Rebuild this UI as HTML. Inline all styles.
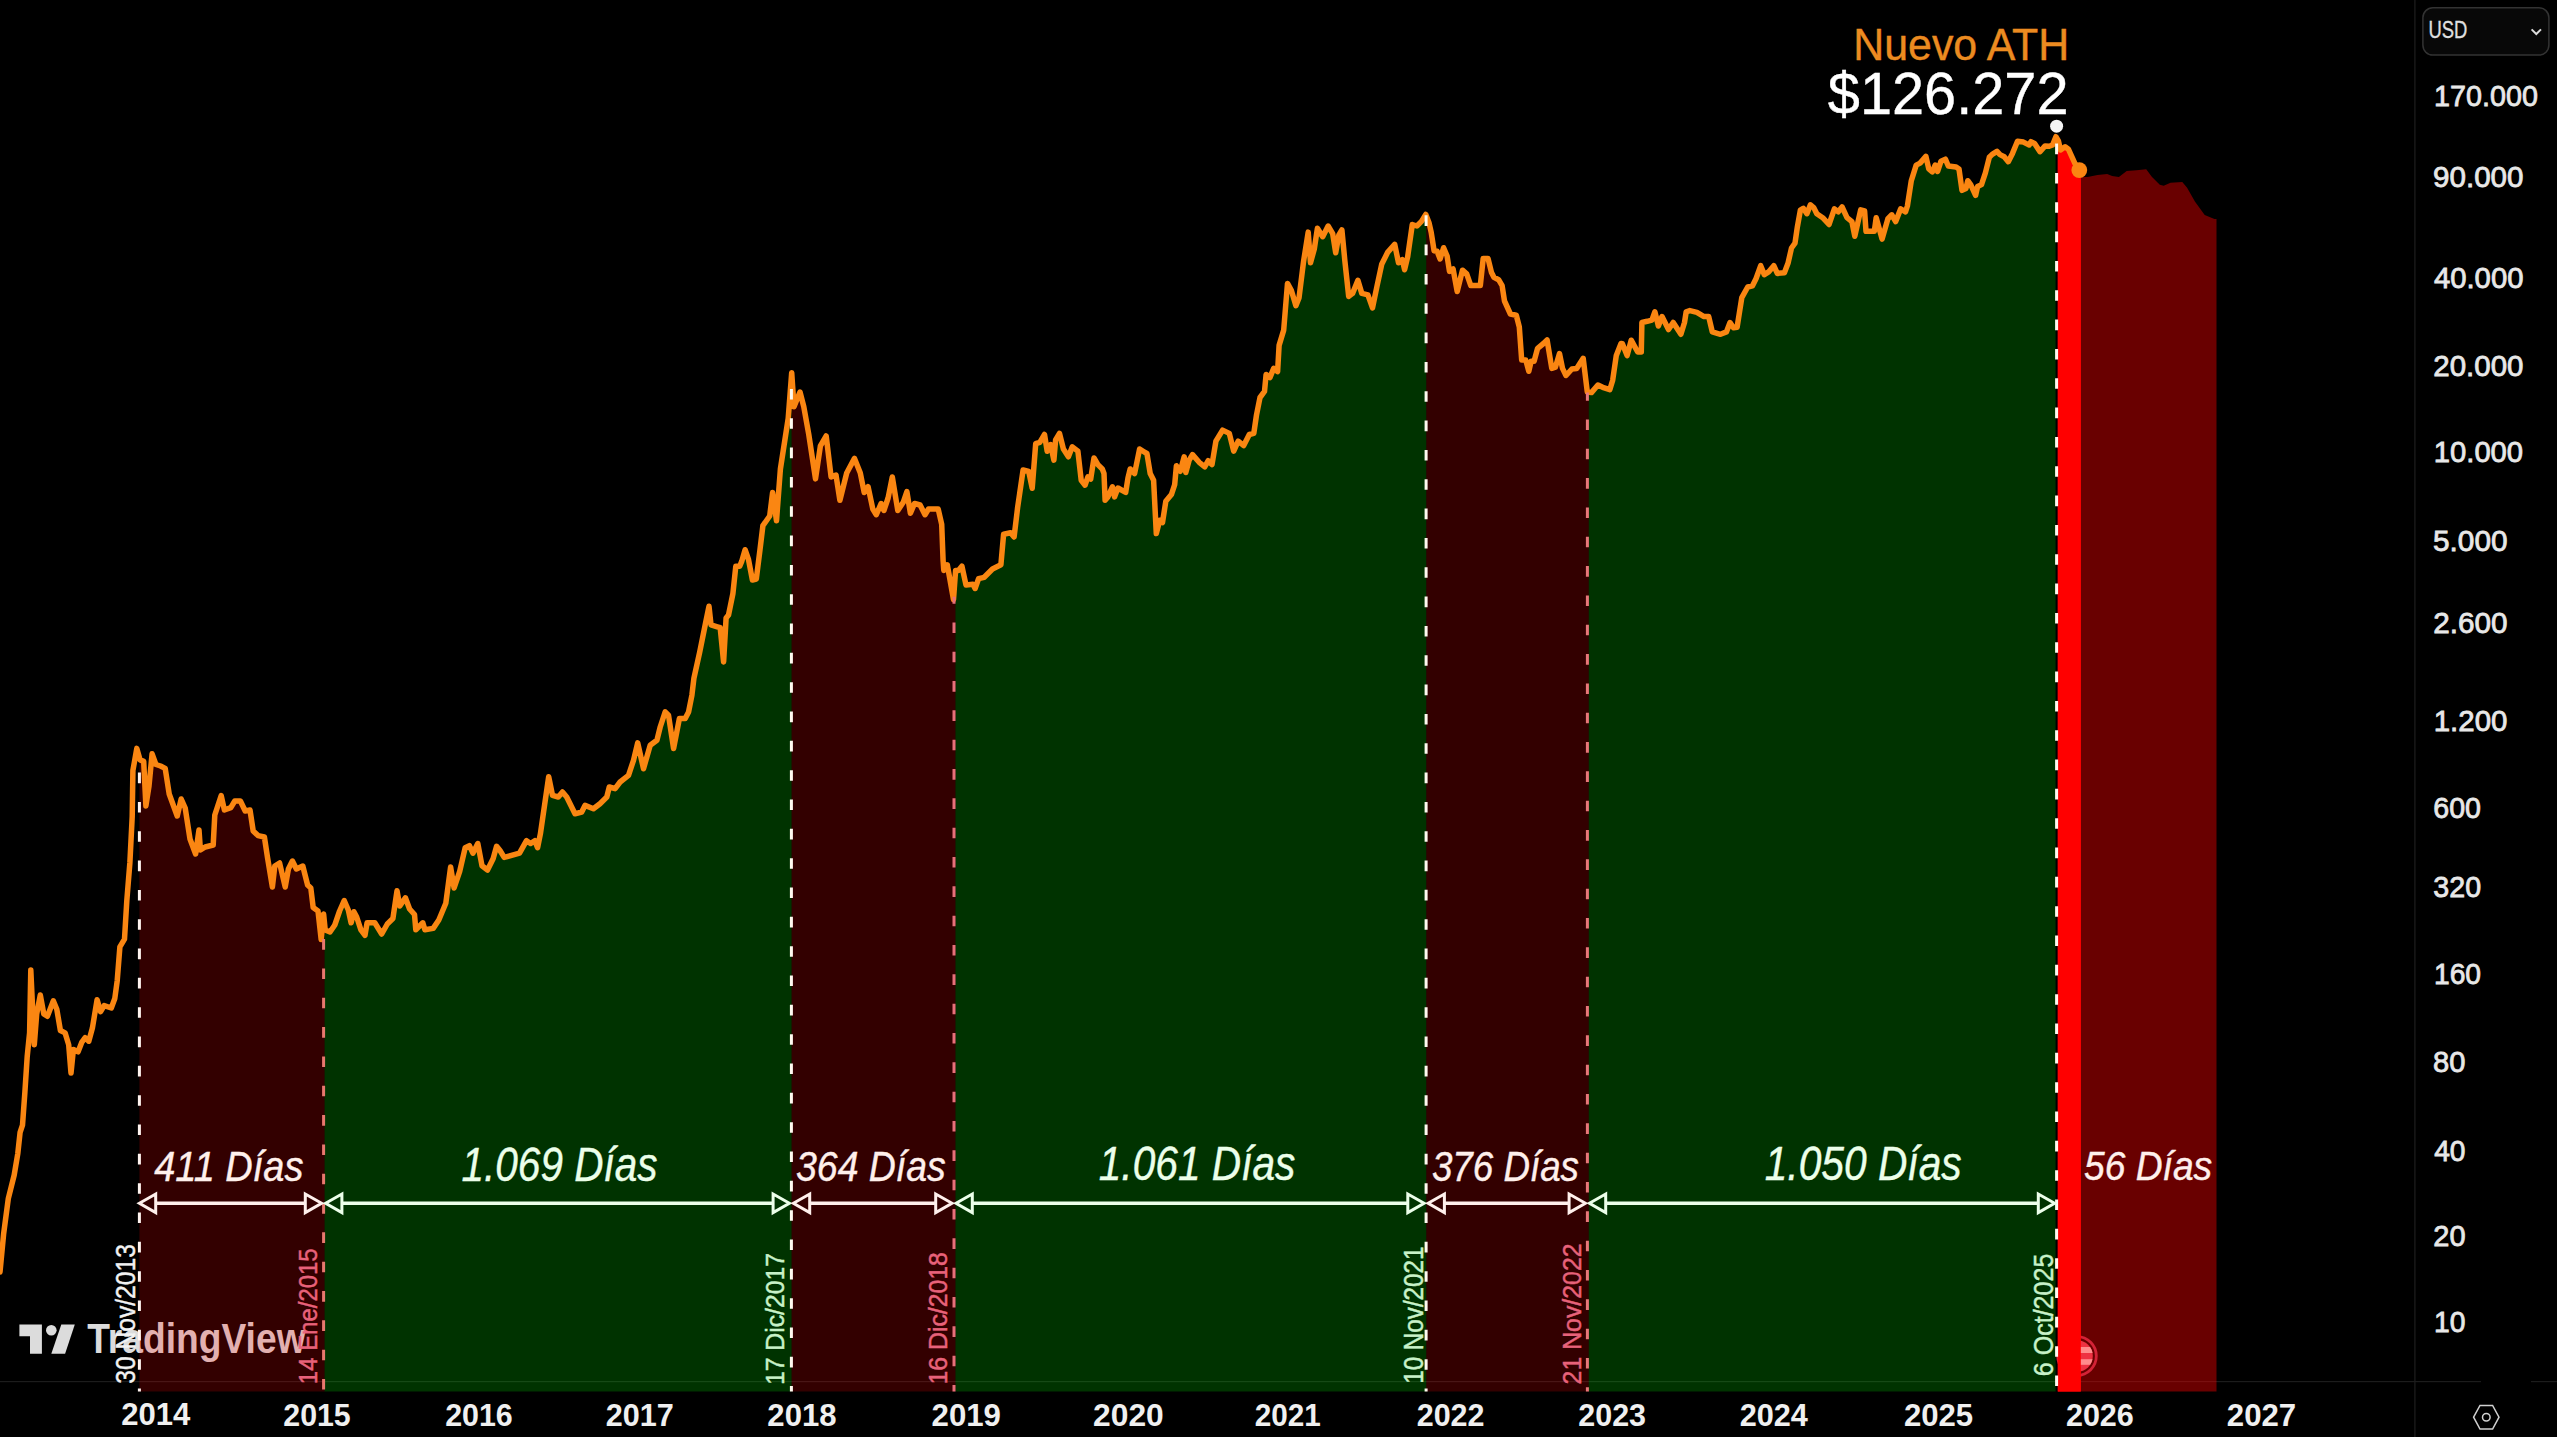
<!DOCTYPE html>
<html><head><meta charset="utf-8"><title>BTC ciclos</title>
<style>
html,body{margin:0;padding:0;background:#000;}
body{width:2557px;height:1437px;overflow:hidden;}
svg{display:block;}
text{font-family:"Liberation Sans",Arial,sans-serif;}
</style></head><body>
<svg width="2557" height="1437" viewBox="0 0 2557 1437">
<rect width="2557" height="1437" fill="#000"/>
<defs>
<clipPath id="c0"><rect x="139.4" y="0" width="185.2" height="1437"/></clipPath>
<clipPath id="c1"><rect x="324.6" y="0" width="467.0" height="1437"/></clipPath>
<clipPath id="c2"><rect x="791.6" y="0" width="163.9" height="1437"/></clipPath>
<clipPath id="c3"><rect x="955.5" y="0" width="470.8" height="1437"/></clipPath>
<clipPath id="c4"><rect x="1426.3" y="0" width="162.5" height="1437"/></clipPath>
<clipPath id="c5"><rect x="1588.8" y="0" width="466.8" height="1437"/></clipPath>
<clipPath id="c6"><rect x="2057.8" y="0" width="23.0" height="1437"/></clipPath>
</defs>
<rect x="0" y="1381" width="2414" height="1.2" fill="#1c1c1c"/>
<rect x="2414" y="1381" width="67" height="1.2" fill="#1c1c1c"/>
<rect x="2531" y="1381" width="26" height="1.2" fill="#1c1c1c"/>
<g fill="#dcdcdc"><path d="M19.4,1324.4 H41.9 V1353.8 H30 V1336.3 H19.4 Z"/><circle cx="51.3" cy="1330.2" r="5.3"/><path d="M61.3,1324.4 H74.8 L65.1,1353.8 H51.3 Z"/><text x="87.16" y="1353.40" font-size="43.28" font-weight="bold" textLength="218.41" lengthAdjust="spacingAndGlyphs">TradingView</text></g>
<path d="M0.0,1272.0 L3.6,1234.2 L8.3,1198.6 L14.2,1175.0 L17.8,1153.6 L20.1,1132.3 L22.5,1125.2 L24.9,1092.0 L27.2,1056.6 L29.6,1032.9 L30.8,970.1 L34.3,1044.7 L36.7,1013.9 L40.3,995.0 L43.8,1013.9 L47.4,1016.3 L53.3,1000.9 L56.8,1009.2 L60.4,1030.5 L65.1,1032.9 L68.7,1044.7 L71.0,1073.1 L73.4,1049.5 L78.1,1051.8 L81.7,1042.4 L85.2,1037.6 L88.8,1041.2 L92.4,1028.1 L97.1,999.7 L100.6,1011.6 L104.2,1005.6 L111.3,1008.0 L114.8,998.5 L117.2,980.8 L119.9,946.8 L124.5,939.1 L126.8,900.8 L129.9,862.5 L132.2,816.6 L132.9,770.6 L136.8,748.4 L140.1,759.9 L143.7,761.4 L145.9,805.9 L149.0,786.0 L152.1,753.8 L155.9,764.5 L160.5,766.0 L165.2,768.4 L169.2,794.0 L173.2,805.0 L177.2,816.0 L181.2,799.0 L185.2,808.0 L190.0,839.0 L195.6,854.0 L199.0,830.0 L200.4,850.0 L205.2,847.0 L213.2,845.0 L214.8,815.0 L221.2,795.6 L224.4,810.0 L230.8,807.6 L234.8,801.0 L240.4,801.0 L245.2,811.0 L250.0,810.0 L253.2,831.0 L258.0,835.6 L264.4,837.0 L267.6,858.0 L272.4,887.0 L274.8,866.0 L279.6,863.0 L285.2,887.0 L288.4,869.0 L292.4,861.0 L296.4,869.0 L302.8,866.0 L307.6,885.0 L310.8,888.0 L313.2,907.6 L318.0,911.0 L321.2,939.6 L323.6,914.0 L325.2,930.0 L330.0,932.0 L334.8,925.0 L339.6,911.0 L344.2,900.5 L348.3,910.0 L351.1,922.8 L353.9,911.7 L356.7,917.0 L360.9,929.8 L365.0,935.3 L367.1,922.8 L374.8,922.8 L381.7,934.0 L387.3,924.0 L392.9,918.6 L397.0,890.8 L399.8,906.0 L405.4,897.8 L409.6,909.0 L414.5,914.5 L415.8,929.8 L422.8,922.8 L424.9,929.8 L433.2,928.4 L438.8,920.0 L445.8,903.3 L450.6,867.0 L454.1,888.0 L459.7,871.3 L465.2,847.7 L469.4,845.6 L472.9,853.2 L477.8,843.5 L482.0,865.8 L487.5,870.0 L493.1,858.8 L496.6,846.3 L500.0,850.5 L504.2,857.4 L519.5,853.2 L526.5,840.7 L530.6,843.5 L534.8,840.7 L537.6,847.7 L540.4,833.8 L548.7,776.7 L552.5,795.4 L558.3,797.0 L562.5,792.0 L566.7,797.0 L575.0,813.8 L581.7,812.0 L585.0,805.4 L593.4,808.8 L600.0,803.7 L606.8,797.0 L609.3,787.0 L615.1,788.7 L620.1,782.0 L628.5,775.4 L633.5,760.3 L637.7,742.8 L643.5,768.7 L650.2,745.3 L656.9,740.3 L660.2,727.0 L665.2,711.9 L668.5,715.2 L673.6,748.6 L679.4,718.6 L685.2,718.6 L688.6,711.9 L691.9,695.2 L693.9,678.4 L699.7,652.1 L705.6,622.9 L709.0,606.3 L711.0,624.8 L717.3,626.8 L720.2,627.7 L723.6,661.9 L726.1,618.0 L728.5,615.1 L732.9,593.6 L735.8,566.3 L739.7,566.3 L741.7,561.4 L745.1,549.7 L748.5,559.5 L752.4,580.0 L756.3,579.0 L760.0,549.7 L762.9,525.7 L769.7,516.0 L772.6,492.5 L776.5,520.8 L780.4,469.0 L788.2,418.5 L791.7,372.7 L794.0,406.8 L800.0,392.0 L803.8,406.8 L808.7,434.0 L815.5,478.9 L820.4,445.8 L826.2,436.0 L831.1,477.0 L836.0,475.0 L839.9,500.3 L846.7,473.0 L854.5,458.4 L860.3,473.0 L864.2,492.5 L868.1,486.7 L872.8,509.0 L876.3,514.7 L881.1,503.5 L883.9,510.5 L888.1,498.0 L892.3,477.0 L897.8,510.5 L903.4,502.0 L906.9,491.7 L910.4,513.3 L914.5,503.5 L920.1,505.0 L925.0,514.7 L928.5,509.0 L938.2,509.0 L941.7,524.4 L943.1,560.6 L943.8,570.4 L947.3,564.8 L953.5,599.6 L955.6,570.4 L958.4,570.4 L961.9,566.2 L966.0,585.0 L973.0,584.3 L975.1,588.5 L978.6,578.7 L984.2,577.3 L992.5,569.0 L1000.9,564.8 L1003.6,534.2 L1010.6,532.8 L1014.1,537.0 L1017.6,507.7 L1023.1,470.0 L1028.7,471.5 L1032.2,488.2 L1035.7,443.7 L1039.8,442.3 L1044.5,434.5 L1047.2,451.2 L1050.6,444.5 L1053.9,460.1 L1055.6,440.0 L1059.5,433.4 L1063.4,449.0 L1068.4,456.8 L1072.3,446.8 L1077.9,451.2 L1081.2,480.2 L1085.1,485.2 L1087.9,476.8 L1090.7,479.0 L1094.0,457.9 L1097.9,464.6 L1102.3,469.0 L1104.0,473.5 L1105.1,500.2 L1107.9,496.9 L1112.4,486.8 L1114.6,496.9 L1117.9,488.0 L1125.7,492.4 L1128.0,477.9 L1130.2,469.0 L1134.6,473.5 L1139.6,449.0 L1144.7,452.3 L1146.9,453.4 L1150.2,473.5 L1153.6,480.2 L1156.3,533.6 L1159.7,520.2 L1162.5,522.5 L1165.8,501.3 L1171.4,494.6 L1174.7,484.6 L1176.4,465.7 L1180.3,471.3 L1184.2,456.8 L1185.8,472.4 L1189.2,460.1 L1192.5,454.6 L1199.2,462.3 L1204.8,466.8 L1208.1,460.7 L1212.0,464.6 L1215.9,441.2 L1222.6,430.1 L1229.3,433.4 L1233.7,451.2 L1238.2,441.2 L1243.7,445.6 L1249.3,434.5 L1253.8,433.4 L1256.5,415.0 L1260.0,397.5 L1264.5,391.4 L1266.1,374.5 L1269.9,377.6 L1273.7,368.4 L1277.6,371.5 L1279.1,345.4 L1283.7,330.1 L1287.5,283.4 L1291.3,290.3 L1295.9,305.6 L1299.0,298.0 L1303.6,261.2 L1308.2,232.1 L1310.5,262.8 L1314.3,249.0 L1317.4,228.3 L1322.7,236.7 L1328.1,226.0 L1332.7,233.7 L1335.7,252.8 L1338.8,235.2 L1341.9,229.9 L1344.9,261.2 L1348.7,296.4 L1352.6,293.4 L1357.9,280.4 L1361.8,293.4 L1367.9,294.9 L1372.5,307.9 L1377.1,285.7 L1381.7,264.3 L1387.8,252.1 L1394.7,244.4 L1398.5,262.8 L1402.3,259.7 L1404.6,269.7 L1407.7,256.6 L1412.3,224.5 L1416.9,226.0 L1421.5,221.4 L1425.8,214.5 L1429.1,223.0 L1431.2,232.4 L1434.1,250.7 L1437.1,251.3 L1440.1,259.0 L1443.6,247.7 L1447.1,256.0 L1449.5,271.4 L1453.1,269.0 L1457.2,291.5 L1462.5,270.2 L1466.7,273.8 L1470.8,285.6 L1480.3,285.6 L1483.2,258.4 L1488.0,258.4 L1491.5,272.6 L1493.9,277.3 L1498.6,279.7 L1502.1,285.6 L1504.5,301.0 L1510.4,314.0 L1516.3,315.2 L1519.3,327.0 L1521.7,360.1 L1525.8,360.1 L1528.8,371.3 L1531.1,361.3 L1534.1,361.3 L1537.6,348.3 L1543.5,343.5 L1547.1,340.0 L1551.8,368.4 L1555.4,367.2 L1559.5,353.6 L1562.5,368.4 L1566.0,375.5 L1571.9,369.0 L1576.7,368.4 L1583.2,358.3 L1587.3,392.0 L1591.4,392.6 L1597.9,385.0 L1602.7,387.3 L1609.8,389.7 L1612.7,380.2 L1616.3,355.4 L1621.0,343.5 L1622.4,343.8 L1627.1,355.6 L1631.2,340.2 L1637.7,352.0 L1641.3,352.0 L1641.9,322.5 L1647.2,321.3 L1651.9,320.1 L1654.9,311.8 L1658.4,326.0 L1662.0,316.6 L1668.5,329.6 L1673.2,322.5 L1680.9,334.3 L1684.5,322.5 L1686.2,311.8 L1689.8,310.6 L1696.9,312.4 L1704.0,316.6 L1708.7,316.6 L1712.3,331.9 L1720.5,334.3 L1726.4,331.9 L1730.0,322.5 L1733.5,327.8 L1737.1,327.2 L1741.8,297.6 L1747.7,287.0 L1752.5,285.8 L1756.0,278.7 L1760.7,265.7 L1764.3,274.6 L1769.0,271.6 L1773.8,265.7 L1777.3,273.4 L1784.4,272.8 L1788.0,263.3 L1791.5,248.0 L1795.0,243.2 L1797.4,226.7 L1800.4,210.1 L1803.3,208.3 L1806.9,213.7 L1810.4,204.8 L1813.9,207.9 L1816.8,213.8 L1822.7,217.7 L1829.0,224.5 L1834.4,208.9 L1838.3,211.8 L1842.1,207.0 L1847.0,217.7 L1851.9,221.6 L1854.8,236.2 L1860.7,209.9 L1864.6,210.9 L1866.0,231.3 L1874.3,231.3 L1876.2,217.7 L1882.1,239.1 L1887.9,218.7 L1891.8,214.8 L1895.7,221.6 L1900.6,208.9 L1905.5,211.8 L1907.4,206.0 L1911.3,180.7 L1916.2,165.1 L1920.1,163.1 L1925.9,156.3 L1928.8,169.0 L1932.3,171.9 L1935.2,165.1 L1937.6,171.4 L1941.0,161.2 L1945.4,159.2 L1948.3,166.0 L1956.1,167.0 L1959.0,169.0 L1962.0,190.4 L1965.9,188.5 L1967.8,180.7 L1970.7,184.6 L1975.6,195.3 L1977.6,186.5 L1981.5,184.6 L1985.4,172.9 L1989.3,157.3 L1992.2,154.4 L1997.0,151.4 L2000.0,154.6 L2004.2,156.7 L2008.3,161.7 L2012.5,153.4 L2017.5,141.3 L2023.4,142.1 L2025.9,143.4 L2029.2,145.0 L2030.9,141.7 L2034.6,143.4 L2040.0,151.7 L2045.1,145.9 L2049.2,146.3 L2052.6,145.0 L2055.9,136.7 L2058.4,140.9 L2060.5,150.0 L2065.1,146.7 L2068.4,149.2 L2071.8,156.7 L2075.1,163.8 L2079.3,170.1 L2081.5,170.2 L2081.5,1391.5 L0.0,1391.5 Z" fill="rgba(255,0,0,0.2)" clip-path="url(#c0)"/>
<path d="M0.0,1272.0 L3.6,1234.2 L8.3,1198.6 L14.2,1175.0 L17.8,1153.6 L20.1,1132.3 L22.5,1125.2 L24.9,1092.0 L27.2,1056.6 L29.6,1032.9 L30.8,970.1 L34.3,1044.7 L36.7,1013.9 L40.3,995.0 L43.8,1013.9 L47.4,1016.3 L53.3,1000.9 L56.8,1009.2 L60.4,1030.5 L65.1,1032.9 L68.7,1044.7 L71.0,1073.1 L73.4,1049.5 L78.1,1051.8 L81.7,1042.4 L85.2,1037.6 L88.8,1041.2 L92.4,1028.1 L97.1,999.7 L100.6,1011.6 L104.2,1005.6 L111.3,1008.0 L114.8,998.5 L117.2,980.8 L119.9,946.8 L124.5,939.1 L126.8,900.8 L129.9,862.5 L132.2,816.6 L132.9,770.6 L136.8,748.4 L140.1,759.9 L143.7,761.4 L145.9,805.9 L149.0,786.0 L152.1,753.8 L155.9,764.5 L160.5,766.0 L165.2,768.4 L169.2,794.0 L173.2,805.0 L177.2,816.0 L181.2,799.0 L185.2,808.0 L190.0,839.0 L195.6,854.0 L199.0,830.0 L200.4,850.0 L205.2,847.0 L213.2,845.0 L214.8,815.0 L221.2,795.6 L224.4,810.0 L230.8,807.6 L234.8,801.0 L240.4,801.0 L245.2,811.0 L250.0,810.0 L253.2,831.0 L258.0,835.6 L264.4,837.0 L267.6,858.0 L272.4,887.0 L274.8,866.0 L279.6,863.0 L285.2,887.0 L288.4,869.0 L292.4,861.0 L296.4,869.0 L302.8,866.0 L307.6,885.0 L310.8,888.0 L313.2,907.6 L318.0,911.0 L321.2,939.6 L323.6,914.0 L325.2,930.0 L330.0,932.0 L334.8,925.0 L339.6,911.0 L344.2,900.5 L348.3,910.0 L351.1,922.8 L353.9,911.7 L356.7,917.0 L360.9,929.8 L365.0,935.3 L367.1,922.8 L374.8,922.8 L381.7,934.0 L387.3,924.0 L392.9,918.6 L397.0,890.8 L399.8,906.0 L405.4,897.8 L409.6,909.0 L414.5,914.5 L415.8,929.8 L422.8,922.8 L424.9,929.8 L433.2,928.4 L438.8,920.0 L445.8,903.3 L450.6,867.0 L454.1,888.0 L459.7,871.3 L465.2,847.7 L469.4,845.6 L472.9,853.2 L477.8,843.5 L482.0,865.8 L487.5,870.0 L493.1,858.8 L496.6,846.3 L500.0,850.5 L504.2,857.4 L519.5,853.2 L526.5,840.7 L530.6,843.5 L534.8,840.7 L537.6,847.7 L540.4,833.8 L548.7,776.7 L552.5,795.4 L558.3,797.0 L562.5,792.0 L566.7,797.0 L575.0,813.8 L581.7,812.0 L585.0,805.4 L593.4,808.8 L600.0,803.7 L606.8,797.0 L609.3,787.0 L615.1,788.7 L620.1,782.0 L628.5,775.4 L633.5,760.3 L637.7,742.8 L643.5,768.7 L650.2,745.3 L656.9,740.3 L660.2,727.0 L665.2,711.9 L668.5,715.2 L673.6,748.6 L679.4,718.6 L685.2,718.6 L688.6,711.9 L691.9,695.2 L693.9,678.4 L699.7,652.1 L705.6,622.9 L709.0,606.3 L711.0,624.8 L717.3,626.8 L720.2,627.7 L723.6,661.9 L726.1,618.0 L728.5,615.1 L732.9,593.6 L735.8,566.3 L739.7,566.3 L741.7,561.4 L745.1,549.7 L748.5,559.5 L752.4,580.0 L756.3,579.0 L760.0,549.7 L762.9,525.7 L769.7,516.0 L772.6,492.5 L776.5,520.8 L780.4,469.0 L788.2,418.5 L791.7,372.7 L794.0,406.8 L800.0,392.0 L803.8,406.8 L808.7,434.0 L815.5,478.9 L820.4,445.8 L826.2,436.0 L831.1,477.0 L836.0,475.0 L839.9,500.3 L846.7,473.0 L854.5,458.4 L860.3,473.0 L864.2,492.5 L868.1,486.7 L872.8,509.0 L876.3,514.7 L881.1,503.5 L883.9,510.5 L888.1,498.0 L892.3,477.0 L897.8,510.5 L903.4,502.0 L906.9,491.7 L910.4,513.3 L914.5,503.5 L920.1,505.0 L925.0,514.7 L928.5,509.0 L938.2,509.0 L941.7,524.4 L943.1,560.6 L943.8,570.4 L947.3,564.8 L953.5,599.6 L955.6,570.4 L958.4,570.4 L961.9,566.2 L966.0,585.0 L973.0,584.3 L975.1,588.5 L978.6,578.7 L984.2,577.3 L992.5,569.0 L1000.9,564.8 L1003.6,534.2 L1010.6,532.8 L1014.1,537.0 L1017.6,507.7 L1023.1,470.0 L1028.7,471.5 L1032.2,488.2 L1035.7,443.7 L1039.8,442.3 L1044.5,434.5 L1047.2,451.2 L1050.6,444.5 L1053.9,460.1 L1055.6,440.0 L1059.5,433.4 L1063.4,449.0 L1068.4,456.8 L1072.3,446.8 L1077.9,451.2 L1081.2,480.2 L1085.1,485.2 L1087.9,476.8 L1090.7,479.0 L1094.0,457.9 L1097.9,464.6 L1102.3,469.0 L1104.0,473.5 L1105.1,500.2 L1107.9,496.9 L1112.4,486.8 L1114.6,496.9 L1117.9,488.0 L1125.7,492.4 L1128.0,477.9 L1130.2,469.0 L1134.6,473.5 L1139.6,449.0 L1144.7,452.3 L1146.9,453.4 L1150.2,473.5 L1153.6,480.2 L1156.3,533.6 L1159.7,520.2 L1162.5,522.5 L1165.8,501.3 L1171.4,494.6 L1174.7,484.6 L1176.4,465.7 L1180.3,471.3 L1184.2,456.8 L1185.8,472.4 L1189.2,460.1 L1192.5,454.6 L1199.2,462.3 L1204.8,466.8 L1208.1,460.7 L1212.0,464.6 L1215.9,441.2 L1222.6,430.1 L1229.3,433.4 L1233.7,451.2 L1238.2,441.2 L1243.7,445.6 L1249.3,434.5 L1253.8,433.4 L1256.5,415.0 L1260.0,397.5 L1264.5,391.4 L1266.1,374.5 L1269.9,377.6 L1273.7,368.4 L1277.6,371.5 L1279.1,345.4 L1283.7,330.1 L1287.5,283.4 L1291.3,290.3 L1295.9,305.6 L1299.0,298.0 L1303.6,261.2 L1308.2,232.1 L1310.5,262.8 L1314.3,249.0 L1317.4,228.3 L1322.7,236.7 L1328.1,226.0 L1332.7,233.7 L1335.7,252.8 L1338.8,235.2 L1341.9,229.9 L1344.9,261.2 L1348.7,296.4 L1352.6,293.4 L1357.9,280.4 L1361.8,293.4 L1367.9,294.9 L1372.5,307.9 L1377.1,285.7 L1381.7,264.3 L1387.8,252.1 L1394.7,244.4 L1398.5,262.8 L1402.3,259.7 L1404.6,269.7 L1407.7,256.6 L1412.3,224.5 L1416.9,226.0 L1421.5,221.4 L1425.8,214.5 L1429.1,223.0 L1431.2,232.4 L1434.1,250.7 L1437.1,251.3 L1440.1,259.0 L1443.6,247.7 L1447.1,256.0 L1449.5,271.4 L1453.1,269.0 L1457.2,291.5 L1462.5,270.2 L1466.7,273.8 L1470.8,285.6 L1480.3,285.6 L1483.2,258.4 L1488.0,258.4 L1491.5,272.6 L1493.9,277.3 L1498.6,279.7 L1502.1,285.6 L1504.5,301.0 L1510.4,314.0 L1516.3,315.2 L1519.3,327.0 L1521.7,360.1 L1525.8,360.1 L1528.8,371.3 L1531.1,361.3 L1534.1,361.3 L1537.6,348.3 L1543.5,343.5 L1547.1,340.0 L1551.8,368.4 L1555.4,367.2 L1559.5,353.6 L1562.5,368.4 L1566.0,375.5 L1571.9,369.0 L1576.7,368.4 L1583.2,358.3 L1587.3,392.0 L1591.4,392.6 L1597.9,385.0 L1602.7,387.3 L1609.8,389.7 L1612.7,380.2 L1616.3,355.4 L1621.0,343.5 L1622.4,343.8 L1627.1,355.6 L1631.2,340.2 L1637.7,352.0 L1641.3,352.0 L1641.9,322.5 L1647.2,321.3 L1651.9,320.1 L1654.9,311.8 L1658.4,326.0 L1662.0,316.6 L1668.5,329.6 L1673.2,322.5 L1680.9,334.3 L1684.5,322.5 L1686.2,311.8 L1689.8,310.6 L1696.9,312.4 L1704.0,316.6 L1708.7,316.6 L1712.3,331.9 L1720.5,334.3 L1726.4,331.9 L1730.0,322.5 L1733.5,327.8 L1737.1,327.2 L1741.8,297.6 L1747.7,287.0 L1752.5,285.8 L1756.0,278.7 L1760.7,265.7 L1764.3,274.6 L1769.0,271.6 L1773.8,265.7 L1777.3,273.4 L1784.4,272.8 L1788.0,263.3 L1791.5,248.0 L1795.0,243.2 L1797.4,226.7 L1800.4,210.1 L1803.3,208.3 L1806.9,213.7 L1810.4,204.8 L1813.9,207.9 L1816.8,213.8 L1822.7,217.7 L1829.0,224.5 L1834.4,208.9 L1838.3,211.8 L1842.1,207.0 L1847.0,217.7 L1851.9,221.6 L1854.8,236.2 L1860.7,209.9 L1864.6,210.9 L1866.0,231.3 L1874.3,231.3 L1876.2,217.7 L1882.1,239.1 L1887.9,218.7 L1891.8,214.8 L1895.7,221.6 L1900.6,208.9 L1905.5,211.8 L1907.4,206.0 L1911.3,180.7 L1916.2,165.1 L1920.1,163.1 L1925.9,156.3 L1928.8,169.0 L1932.3,171.9 L1935.2,165.1 L1937.6,171.4 L1941.0,161.2 L1945.4,159.2 L1948.3,166.0 L1956.1,167.0 L1959.0,169.0 L1962.0,190.4 L1965.9,188.5 L1967.8,180.7 L1970.7,184.6 L1975.6,195.3 L1977.6,186.5 L1981.5,184.6 L1985.4,172.9 L1989.3,157.3 L1992.2,154.4 L1997.0,151.4 L2000.0,154.6 L2004.2,156.7 L2008.3,161.7 L2012.5,153.4 L2017.5,141.3 L2023.4,142.1 L2025.9,143.4 L2029.2,145.0 L2030.9,141.7 L2034.6,143.4 L2040.0,151.7 L2045.1,145.9 L2049.2,146.3 L2052.6,145.0 L2055.9,136.7 L2058.4,140.9 L2060.5,150.0 L2065.1,146.7 L2068.4,149.2 L2071.8,156.7 L2075.1,163.8 L2079.3,170.1 L2081.5,170.2 L2081.5,1391.5 L0.0,1391.5 Z" fill="rgba(0,255,0,0.2)" clip-path="url(#c1)"/>
<path d="M0.0,1272.0 L3.6,1234.2 L8.3,1198.6 L14.2,1175.0 L17.8,1153.6 L20.1,1132.3 L22.5,1125.2 L24.9,1092.0 L27.2,1056.6 L29.6,1032.9 L30.8,970.1 L34.3,1044.7 L36.7,1013.9 L40.3,995.0 L43.8,1013.9 L47.4,1016.3 L53.3,1000.9 L56.8,1009.2 L60.4,1030.5 L65.1,1032.9 L68.7,1044.7 L71.0,1073.1 L73.4,1049.5 L78.1,1051.8 L81.7,1042.4 L85.2,1037.6 L88.8,1041.2 L92.4,1028.1 L97.1,999.7 L100.6,1011.6 L104.2,1005.6 L111.3,1008.0 L114.8,998.5 L117.2,980.8 L119.9,946.8 L124.5,939.1 L126.8,900.8 L129.9,862.5 L132.2,816.6 L132.9,770.6 L136.8,748.4 L140.1,759.9 L143.7,761.4 L145.9,805.9 L149.0,786.0 L152.1,753.8 L155.9,764.5 L160.5,766.0 L165.2,768.4 L169.2,794.0 L173.2,805.0 L177.2,816.0 L181.2,799.0 L185.2,808.0 L190.0,839.0 L195.6,854.0 L199.0,830.0 L200.4,850.0 L205.2,847.0 L213.2,845.0 L214.8,815.0 L221.2,795.6 L224.4,810.0 L230.8,807.6 L234.8,801.0 L240.4,801.0 L245.2,811.0 L250.0,810.0 L253.2,831.0 L258.0,835.6 L264.4,837.0 L267.6,858.0 L272.4,887.0 L274.8,866.0 L279.6,863.0 L285.2,887.0 L288.4,869.0 L292.4,861.0 L296.4,869.0 L302.8,866.0 L307.6,885.0 L310.8,888.0 L313.2,907.6 L318.0,911.0 L321.2,939.6 L323.6,914.0 L325.2,930.0 L330.0,932.0 L334.8,925.0 L339.6,911.0 L344.2,900.5 L348.3,910.0 L351.1,922.8 L353.9,911.7 L356.7,917.0 L360.9,929.8 L365.0,935.3 L367.1,922.8 L374.8,922.8 L381.7,934.0 L387.3,924.0 L392.9,918.6 L397.0,890.8 L399.8,906.0 L405.4,897.8 L409.6,909.0 L414.5,914.5 L415.8,929.8 L422.8,922.8 L424.9,929.8 L433.2,928.4 L438.8,920.0 L445.8,903.3 L450.6,867.0 L454.1,888.0 L459.7,871.3 L465.2,847.7 L469.4,845.6 L472.9,853.2 L477.8,843.5 L482.0,865.8 L487.5,870.0 L493.1,858.8 L496.6,846.3 L500.0,850.5 L504.2,857.4 L519.5,853.2 L526.5,840.7 L530.6,843.5 L534.8,840.7 L537.6,847.7 L540.4,833.8 L548.7,776.7 L552.5,795.4 L558.3,797.0 L562.5,792.0 L566.7,797.0 L575.0,813.8 L581.7,812.0 L585.0,805.4 L593.4,808.8 L600.0,803.7 L606.8,797.0 L609.3,787.0 L615.1,788.7 L620.1,782.0 L628.5,775.4 L633.5,760.3 L637.7,742.8 L643.5,768.7 L650.2,745.3 L656.9,740.3 L660.2,727.0 L665.2,711.9 L668.5,715.2 L673.6,748.6 L679.4,718.6 L685.2,718.6 L688.6,711.9 L691.9,695.2 L693.9,678.4 L699.7,652.1 L705.6,622.9 L709.0,606.3 L711.0,624.8 L717.3,626.8 L720.2,627.7 L723.6,661.9 L726.1,618.0 L728.5,615.1 L732.9,593.6 L735.8,566.3 L739.7,566.3 L741.7,561.4 L745.1,549.7 L748.5,559.5 L752.4,580.0 L756.3,579.0 L760.0,549.7 L762.9,525.7 L769.7,516.0 L772.6,492.5 L776.5,520.8 L780.4,469.0 L788.2,418.5 L791.7,372.7 L794.0,406.8 L800.0,392.0 L803.8,406.8 L808.7,434.0 L815.5,478.9 L820.4,445.8 L826.2,436.0 L831.1,477.0 L836.0,475.0 L839.9,500.3 L846.7,473.0 L854.5,458.4 L860.3,473.0 L864.2,492.5 L868.1,486.7 L872.8,509.0 L876.3,514.7 L881.1,503.5 L883.9,510.5 L888.1,498.0 L892.3,477.0 L897.8,510.5 L903.4,502.0 L906.9,491.7 L910.4,513.3 L914.5,503.5 L920.1,505.0 L925.0,514.7 L928.5,509.0 L938.2,509.0 L941.7,524.4 L943.1,560.6 L943.8,570.4 L947.3,564.8 L953.5,599.6 L955.6,570.4 L958.4,570.4 L961.9,566.2 L966.0,585.0 L973.0,584.3 L975.1,588.5 L978.6,578.7 L984.2,577.3 L992.5,569.0 L1000.9,564.8 L1003.6,534.2 L1010.6,532.8 L1014.1,537.0 L1017.6,507.7 L1023.1,470.0 L1028.7,471.5 L1032.2,488.2 L1035.7,443.7 L1039.8,442.3 L1044.5,434.5 L1047.2,451.2 L1050.6,444.5 L1053.9,460.1 L1055.6,440.0 L1059.5,433.4 L1063.4,449.0 L1068.4,456.8 L1072.3,446.8 L1077.9,451.2 L1081.2,480.2 L1085.1,485.2 L1087.9,476.8 L1090.7,479.0 L1094.0,457.9 L1097.9,464.6 L1102.3,469.0 L1104.0,473.5 L1105.1,500.2 L1107.9,496.9 L1112.4,486.8 L1114.6,496.9 L1117.9,488.0 L1125.7,492.4 L1128.0,477.9 L1130.2,469.0 L1134.6,473.5 L1139.6,449.0 L1144.7,452.3 L1146.9,453.4 L1150.2,473.5 L1153.6,480.2 L1156.3,533.6 L1159.7,520.2 L1162.5,522.5 L1165.8,501.3 L1171.4,494.6 L1174.7,484.6 L1176.4,465.7 L1180.3,471.3 L1184.2,456.8 L1185.8,472.4 L1189.2,460.1 L1192.5,454.6 L1199.2,462.3 L1204.8,466.8 L1208.1,460.7 L1212.0,464.6 L1215.9,441.2 L1222.6,430.1 L1229.3,433.4 L1233.7,451.2 L1238.2,441.2 L1243.7,445.6 L1249.3,434.5 L1253.8,433.4 L1256.5,415.0 L1260.0,397.5 L1264.5,391.4 L1266.1,374.5 L1269.9,377.6 L1273.7,368.4 L1277.6,371.5 L1279.1,345.4 L1283.7,330.1 L1287.5,283.4 L1291.3,290.3 L1295.9,305.6 L1299.0,298.0 L1303.6,261.2 L1308.2,232.1 L1310.5,262.8 L1314.3,249.0 L1317.4,228.3 L1322.7,236.7 L1328.1,226.0 L1332.7,233.7 L1335.7,252.8 L1338.8,235.2 L1341.9,229.9 L1344.9,261.2 L1348.7,296.4 L1352.6,293.4 L1357.9,280.4 L1361.8,293.4 L1367.9,294.9 L1372.5,307.9 L1377.1,285.7 L1381.7,264.3 L1387.8,252.1 L1394.7,244.4 L1398.5,262.8 L1402.3,259.7 L1404.6,269.7 L1407.7,256.6 L1412.3,224.5 L1416.9,226.0 L1421.5,221.4 L1425.8,214.5 L1429.1,223.0 L1431.2,232.4 L1434.1,250.7 L1437.1,251.3 L1440.1,259.0 L1443.6,247.7 L1447.1,256.0 L1449.5,271.4 L1453.1,269.0 L1457.2,291.5 L1462.5,270.2 L1466.7,273.8 L1470.8,285.6 L1480.3,285.6 L1483.2,258.4 L1488.0,258.4 L1491.5,272.6 L1493.9,277.3 L1498.6,279.7 L1502.1,285.6 L1504.5,301.0 L1510.4,314.0 L1516.3,315.2 L1519.3,327.0 L1521.7,360.1 L1525.8,360.1 L1528.8,371.3 L1531.1,361.3 L1534.1,361.3 L1537.6,348.3 L1543.5,343.5 L1547.1,340.0 L1551.8,368.4 L1555.4,367.2 L1559.5,353.6 L1562.5,368.4 L1566.0,375.5 L1571.9,369.0 L1576.7,368.4 L1583.2,358.3 L1587.3,392.0 L1591.4,392.6 L1597.9,385.0 L1602.7,387.3 L1609.8,389.7 L1612.7,380.2 L1616.3,355.4 L1621.0,343.5 L1622.4,343.8 L1627.1,355.6 L1631.2,340.2 L1637.7,352.0 L1641.3,352.0 L1641.9,322.5 L1647.2,321.3 L1651.9,320.1 L1654.9,311.8 L1658.4,326.0 L1662.0,316.6 L1668.5,329.6 L1673.2,322.5 L1680.9,334.3 L1684.5,322.5 L1686.2,311.8 L1689.8,310.6 L1696.9,312.4 L1704.0,316.6 L1708.7,316.6 L1712.3,331.9 L1720.5,334.3 L1726.4,331.9 L1730.0,322.5 L1733.5,327.8 L1737.1,327.2 L1741.8,297.6 L1747.7,287.0 L1752.5,285.8 L1756.0,278.7 L1760.7,265.7 L1764.3,274.6 L1769.0,271.6 L1773.8,265.7 L1777.3,273.4 L1784.4,272.8 L1788.0,263.3 L1791.5,248.0 L1795.0,243.2 L1797.4,226.7 L1800.4,210.1 L1803.3,208.3 L1806.9,213.7 L1810.4,204.8 L1813.9,207.9 L1816.8,213.8 L1822.7,217.7 L1829.0,224.5 L1834.4,208.9 L1838.3,211.8 L1842.1,207.0 L1847.0,217.7 L1851.9,221.6 L1854.8,236.2 L1860.7,209.9 L1864.6,210.9 L1866.0,231.3 L1874.3,231.3 L1876.2,217.7 L1882.1,239.1 L1887.9,218.7 L1891.8,214.8 L1895.7,221.6 L1900.6,208.9 L1905.5,211.8 L1907.4,206.0 L1911.3,180.7 L1916.2,165.1 L1920.1,163.1 L1925.9,156.3 L1928.8,169.0 L1932.3,171.9 L1935.2,165.1 L1937.6,171.4 L1941.0,161.2 L1945.4,159.2 L1948.3,166.0 L1956.1,167.0 L1959.0,169.0 L1962.0,190.4 L1965.9,188.5 L1967.8,180.7 L1970.7,184.6 L1975.6,195.3 L1977.6,186.5 L1981.5,184.6 L1985.4,172.9 L1989.3,157.3 L1992.2,154.4 L1997.0,151.4 L2000.0,154.6 L2004.2,156.7 L2008.3,161.7 L2012.5,153.4 L2017.5,141.3 L2023.4,142.1 L2025.9,143.4 L2029.2,145.0 L2030.9,141.7 L2034.6,143.4 L2040.0,151.7 L2045.1,145.9 L2049.2,146.3 L2052.6,145.0 L2055.9,136.7 L2058.4,140.9 L2060.5,150.0 L2065.1,146.7 L2068.4,149.2 L2071.8,156.7 L2075.1,163.8 L2079.3,170.1 L2081.5,170.2 L2081.5,1391.5 L0.0,1391.5 Z" fill="rgba(255,0,0,0.2)" clip-path="url(#c2)"/>
<path d="M0.0,1272.0 L3.6,1234.2 L8.3,1198.6 L14.2,1175.0 L17.8,1153.6 L20.1,1132.3 L22.5,1125.2 L24.9,1092.0 L27.2,1056.6 L29.6,1032.9 L30.8,970.1 L34.3,1044.7 L36.7,1013.9 L40.3,995.0 L43.8,1013.9 L47.4,1016.3 L53.3,1000.9 L56.8,1009.2 L60.4,1030.5 L65.1,1032.9 L68.7,1044.7 L71.0,1073.1 L73.4,1049.5 L78.1,1051.8 L81.7,1042.4 L85.2,1037.6 L88.8,1041.2 L92.4,1028.1 L97.1,999.7 L100.6,1011.6 L104.2,1005.6 L111.3,1008.0 L114.8,998.5 L117.2,980.8 L119.9,946.8 L124.5,939.1 L126.8,900.8 L129.9,862.5 L132.2,816.6 L132.9,770.6 L136.8,748.4 L140.1,759.9 L143.7,761.4 L145.9,805.9 L149.0,786.0 L152.1,753.8 L155.9,764.5 L160.5,766.0 L165.2,768.4 L169.2,794.0 L173.2,805.0 L177.2,816.0 L181.2,799.0 L185.2,808.0 L190.0,839.0 L195.6,854.0 L199.0,830.0 L200.4,850.0 L205.2,847.0 L213.2,845.0 L214.8,815.0 L221.2,795.6 L224.4,810.0 L230.8,807.6 L234.8,801.0 L240.4,801.0 L245.2,811.0 L250.0,810.0 L253.2,831.0 L258.0,835.6 L264.4,837.0 L267.6,858.0 L272.4,887.0 L274.8,866.0 L279.6,863.0 L285.2,887.0 L288.4,869.0 L292.4,861.0 L296.4,869.0 L302.8,866.0 L307.6,885.0 L310.8,888.0 L313.2,907.6 L318.0,911.0 L321.2,939.6 L323.6,914.0 L325.2,930.0 L330.0,932.0 L334.8,925.0 L339.6,911.0 L344.2,900.5 L348.3,910.0 L351.1,922.8 L353.9,911.7 L356.7,917.0 L360.9,929.8 L365.0,935.3 L367.1,922.8 L374.8,922.8 L381.7,934.0 L387.3,924.0 L392.9,918.6 L397.0,890.8 L399.8,906.0 L405.4,897.8 L409.6,909.0 L414.5,914.5 L415.8,929.8 L422.8,922.8 L424.9,929.8 L433.2,928.4 L438.8,920.0 L445.8,903.3 L450.6,867.0 L454.1,888.0 L459.7,871.3 L465.2,847.7 L469.4,845.6 L472.9,853.2 L477.8,843.5 L482.0,865.8 L487.5,870.0 L493.1,858.8 L496.6,846.3 L500.0,850.5 L504.2,857.4 L519.5,853.2 L526.5,840.7 L530.6,843.5 L534.8,840.7 L537.6,847.7 L540.4,833.8 L548.7,776.7 L552.5,795.4 L558.3,797.0 L562.5,792.0 L566.7,797.0 L575.0,813.8 L581.7,812.0 L585.0,805.4 L593.4,808.8 L600.0,803.7 L606.8,797.0 L609.3,787.0 L615.1,788.7 L620.1,782.0 L628.5,775.4 L633.5,760.3 L637.7,742.8 L643.5,768.7 L650.2,745.3 L656.9,740.3 L660.2,727.0 L665.2,711.9 L668.5,715.2 L673.6,748.6 L679.4,718.6 L685.2,718.6 L688.6,711.9 L691.9,695.2 L693.9,678.4 L699.7,652.1 L705.6,622.9 L709.0,606.3 L711.0,624.8 L717.3,626.8 L720.2,627.7 L723.6,661.9 L726.1,618.0 L728.5,615.1 L732.9,593.6 L735.8,566.3 L739.7,566.3 L741.7,561.4 L745.1,549.7 L748.5,559.5 L752.4,580.0 L756.3,579.0 L760.0,549.7 L762.9,525.7 L769.7,516.0 L772.6,492.5 L776.5,520.8 L780.4,469.0 L788.2,418.5 L791.7,372.7 L794.0,406.8 L800.0,392.0 L803.8,406.8 L808.7,434.0 L815.5,478.9 L820.4,445.8 L826.2,436.0 L831.1,477.0 L836.0,475.0 L839.9,500.3 L846.7,473.0 L854.5,458.4 L860.3,473.0 L864.2,492.5 L868.1,486.7 L872.8,509.0 L876.3,514.7 L881.1,503.5 L883.9,510.5 L888.1,498.0 L892.3,477.0 L897.8,510.5 L903.4,502.0 L906.9,491.7 L910.4,513.3 L914.5,503.5 L920.1,505.0 L925.0,514.7 L928.5,509.0 L938.2,509.0 L941.7,524.4 L943.1,560.6 L943.8,570.4 L947.3,564.8 L953.5,599.6 L955.6,570.4 L958.4,570.4 L961.9,566.2 L966.0,585.0 L973.0,584.3 L975.1,588.5 L978.6,578.7 L984.2,577.3 L992.5,569.0 L1000.9,564.8 L1003.6,534.2 L1010.6,532.8 L1014.1,537.0 L1017.6,507.7 L1023.1,470.0 L1028.7,471.5 L1032.2,488.2 L1035.7,443.7 L1039.8,442.3 L1044.5,434.5 L1047.2,451.2 L1050.6,444.5 L1053.9,460.1 L1055.6,440.0 L1059.5,433.4 L1063.4,449.0 L1068.4,456.8 L1072.3,446.8 L1077.9,451.2 L1081.2,480.2 L1085.1,485.2 L1087.9,476.8 L1090.7,479.0 L1094.0,457.9 L1097.9,464.6 L1102.3,469.0 L1104.0,473.5 L1105.1,500.2 L1107.9,496.9 L1112.4,486.8 L1114.6,496.9 L1117.9,488.0 L1125.7,492.4 L1128.0,477.9 L1130.2,469.0 L1134.6,473.5 L1139.6,449.0 L1144.7,452.3 L1146.9,453.4 L1150.2,473.5 L1153.6,480.2 L1156.3,533.6 L1159.7,520.2 L1162.5,522.5 L1165.8,501.3 L1171.4,494.6 L1174.7,484.6 L1176.4,465.7 L1180.3,471.3 L1184.2,456.8 L1185.8,472.4 L1189.2,460.1 L1192.5,454.6 L1199.2,462.3 L1204.8,466.8 L1208.1,460.7 L1212.0,464.6 L1215.9,441.2 L1222.6,430.1 L1229.3,433.4 L1233.7,451.2 L1238.2,441.2 L1243.7,445.6 L1249.3,434.5 L1253.8,433.4 L1256.5,415.0 L1260.0,397.5 L1264.5,391.4 L1266.1,374.5 L1269.9,377.6 L1273.7,368.4 L1277.6,371.5 L1279.1,345.4 L1283.7,330.1 L1287.5,283.4 L1291.3,290.3 L1295.9,305.6 L1299.0,298.0 L1303.6,261.2 L1308.2,232.1 L1310.5,262.8 L1314.3,249.0 L1317.4,228.3 L1322.7,236.7 L1328.1,226.0 L1332.7,233.7 L1335.7,252.8 L1338.8,235.2 L1341.9,229.9 L1344.9,261.2 L1348.7,296.4 L1352.6,293.4 L1357.9,280.4 L1361.8,293.4 L1367.9,294.9 L1372.5,307.9 L1377.1,285.7 L1381.7,264.3 L1387.8,252.1 L1394.7,244.4 L1398.5,262.8 L1402.3,259.7 L1404.6,269.7 L1407.7,256.6 L1412.3,224.5 L1416.9,226.0 L1421.5,221.4 L1425.8,214.5 L1429.1,223.0 L1431.2,232.4 L1434.1,250.7 L1437.1,251.3 L1440.1,259.0 L1443.6,247.7 L1447.1,256.0 L1449.5,271.4 L1453.1,269.0 L1457.2,291.5 L1462.5,270.2 L1466.7,273.8 L1470.8,285.6 L1480.3,285.6 L1483.2,258.4 L1488.0,258.4 L1491.5,272.6 L1493.9,277.3 L1498.6,279.7 L1502.1,285.6 L1504.5,301.0 L1510.4,314.0 L1516.3,315.2 L1519.3,327.0 L1521.7,360.1 L1525.8,360.1 L1528.8,371.3 L1531.1,361.3 L1534.1,361.3 L1537.6,348.3 L1543.5,343.5 L1547.1,340.0 L1551.8,368.4 L1555.4,367.2 L1559.5,353.6 L1562.5,368.4 L1566.0,375.5 L1571.9,369.0 L1576.7,368.4 L1583.2,358.3 L1587.3,392.0 L1591.4,392.6 L1597.9,385.0 L1602.7,387.3 L1609.8,389.7 L1612.7,380.2 L1616.3,355.4 L1621.0,343.5 L1622.4,343.8 L1627.1,355.6 L1631.2,340.2 L1637.7,352.0 L1641.3,352.0 L1641.9,322.5 L1647.2,321.3 L1651.9,320.1 L1654.9,311.8 L1658.4,326.0 L1662.0,316.6 L1668.5,329.6 L1673.2,322.5 L1680.9,334.3 L1684.5,322.5 L1686.2,311.8 L1689.8,310.6 L1696.9,312.4 L1704.0,316.6 L1708.7,316.6 L1712.3,331.9 L1720.5,334.3 L1726.4,331.9 L1730.0,322.5 L1733.5,327.8 L1737.1,327.2 L1741.8,297.6 L1747.7,287.0 L1752.5,285.8 L1756.0,278.7 L1760.7,265.7 L1764.3,274.6 L1769.0,271.6 L1773.8,265.7 L1777.3,273.4 L1784.4,272.8 L1788.0,263.3 L1791.5,248.0 L1795.0,243.2 L1797.4,226.7 L1800.4,210.1 L1803.3,208.3 L1806.9,213.7 L1810.4,204.8 L1813.9,207.9 L1816.8,213.8 L1822.7,217.7 L1829.0,224.5 L1834.4,208.9 L1838.3,211.8 L1842.1,207.0 L1847.0,217.7 L1851.9,221.6 L1854.8,236.2 L1860.7,209.9 L1864.6,210.9 L1866.0,231.3 L1874.3,231.3 L1876.2,217.7 L1882.1,239.1 L1887.9,218.7 L1891.8,214.8 L1895.7,221.6 L1900.6,208.9 L1905.5,211.8 L1907.4,206.0 L1911.3,180.7 L1916.2,165.1 L1920.1,163.1 L1925.9,156.3 L1928.8,169.0 L1932.3,171.9 L1935.2,165.1 L1937.6,171.4 L1941.0,161.2 L1945.4,159.2 L1948.3,166.0 L1956.1,167.0 L1959.0,169.0 L1962.0,190.4 L1965.9,188.5 L1967.8,180.7 L1970.7,184.6 L1975.6,195.3 L1977.6,186.5 L1981.5,184.6 L1985.4,172.9 L1989.3,157.3 L1992.2,154.4 L1997.0,151.4 L2000.0,154.6 L2004.2,156.7 L2008.3,161.7 L2012.5,153.4 L2017.5,141.3 L2023.4,142.1 L2025.9,143.4 L2029.2,145.0 L2030.9,141.7 L2034.6,143.4 L2040.0,151.7 L2045.1,145.9 L2049.2,146.3 L2052.6,145.0 L2055.9,136.7 L2058.4,140.9 L2060.5,150.0 L2065.1,146.7 L2068.4,149.2 L2071.8,156.7 L2075.1,163.8 L2079.3,170.1 L2081.5,170.2 L2081.5,1391.5 L0.0,1391.5 Z" fill="rgba(0,255,0,0.2)" clip-path="url(#c3)"/>
<path d="M0.0,1272.0 L3.6,1234.2 L8.3,1198.6 L14.2,1175.0 L17.8,1153.6 L20.1,1132.3 L22.5,1125.2 L24.9,1092.0 L27.2,1056.6 L29.6,1032.9 L30.8,970.1 L34.3,1044.7 L36.7,1013.9 L40.3,995.0 L43.8,1013.9 L47.4,1016.3 L53.3,1000.9 L56.8,1009.2 L60.4,1030.5 L65.1,1032.9 L68.7,1044.7 L71.0,1073.1 L73.4,1049.5 L78.1,1051.8 L81.7,1042.4 L85.2,1037.6 L88.8,1041.2 L92.4,1028.1 L97.1,999.7 L100.6,1011.6 L104.2,1005.6 L111.3,1008.0 L114.8,998.5 L117.2,980.8 L119.9,946.8 L124.5,939.1 L126.8,900.8 L129.9,862.5 L132.2,816.6 L132.9,770.6 L136.8,748.4 L140.1,759.9 L143.7,761.4 L145.9,805.9 L149.0,786.0 L152.1,753.8 L155.9,764.5 L160.5,766.0 L165.2,768.4 L169.2,794.0 L173.2,805.0 L177.2,816.0 L181.2,799.0 L185.2,808.0 L190.0,839.0 L195.6,854.0 L199.0,830.0 L200.4,850.0 L205.2,847.0 L213.2,845.0 L214.8,815.0 L221.2,795.6 L224.4,810.0 L230.8,807.6 L234.8,801.0 L240.4,801.0 L245.2,811.0 L250.0,810.0 L253.2,831.0 L258.0,835.6 L264.4,837.0 L267.6,858.0 L272.4,887.0 L274.8,866.0 L279.6,863.0 L285.2,887.0 L288.4,869.0 L292.4,861.0 L296.4,869.0 L302.8,866.0 L307.6,885.0 L310.8,888.0 L313.2,907.6 L318.0,911.0 L321.2,939.6 L323.6,914.0 L325.2,930.0 L330.0,932.0 L334.8,925.0 L339.6,911.0 L344.2,900.5 L348.3,910.0 L351.1,922.8 L353.9,911.7 L356.7,917.0 L360.9,929.8 L365.0,935.3 L367.1,922.8 L374.8,922.8 L381.7,934.0 L387.3,924.0 L392.9,918.6 L397.0,890.8 L399.8,906.0 L405.4,897.8 L409.6,909.0 L414.5,914.5 L415.8,929.8 L422.8,922.8 L424.9,929.8 L433.2,928.4 L438.8,920.0 L445.8,903.3 L450.6,867.0 L454.1,888.0 L459.7,871.3 L465.2,847.7 L469.4,845.6 L472.9,853.2 L477.8,843.5 L482.0,865.8 L487.5,870.0 L493.1,858.8 L496.6,846.3 L500.0,850.5 L504.2,857.4 L519.5,853.2 L526.5,840.7 L530.6,843.5 L534.8,840.7 L537.6,847.7 L540.4,833.8 L548.7,776.7 L552.5,795.4 L558.3,797.0 L562.5,792.0 L566.7,797.0 L575.0,813.8 L581.7,812.0 L585.0,805.4 L593.4,808.8 L600.0,803.7 L606.8,797.0 L609.3,787.0 L615.1,788.7 L620.1,782.0 L628.5,775.4 L633.5,760.3 L637.7,742.8 L643.5,768.7 L650.2,745.3 L656.9,740.3 L660.2,727.0 L665.2,711.9 L668.5,715.2 L673.6,748.6 L679.4,718.6 L685.2,718.6 L688.6,711.9 L691.9,695.2 L693.9,678.4 L699.7,652.1 L705.6,622.9 L709.0,606.3 L711.0,624.8 L717.3,626.8 L720.2,627.7 L723.6,661.9 L726.1,618.0 L728.5,615.1 L732.9,593.6 L735.8,566.3 L739.7,566.3 L741.7,561.4 L745.1,549.7 L748.5,559.5 L752.4,580.0 L756.3,579.0 L760.0,549.7 L762.9,525.7 L769.7,516.0 L772.6,492.5 L776.5,520.8 L780.4,469.0 L788.2,418.5 L791.7,372.7 L794.0,406.8 L800.0,392.0 L803.8,406.8 L808.7,434.0 L815.5,478.9 L820.4,445.8 L826.2,436.0 L831.1,477.0 L836.0,475.0 L839.9,500.3 L846.7,473.0 L854.5,458.4 L860.3,473.0 L864.2,492.5 L868.1,486.7 L872.8,509.0 L876.3,514.7 L881.1,503.5 L883.9,510.5 L888.1,498.0 L892.3,477.0 L897.8,510.5 L903.4,502.0 L906.9,491.7 L910.4,513.3 L914.5,503.5 L920.1,505.0 L925.0,514.7 L928.5,509.0 L938.2,509.0 L941.7,524.4 L943.1,560.6 L943.8,570.4 L947.3,564.8 L953.5,599.6 L955.6,570.4 L958.4,570.4 L961.9,566.2 L966.0,585.0 L973.0,584.3 L975.1,588.5 L978.6,578.7 L984.2,577.3 L992.5,569.0 L1000.9,564.8 L1003.6,534.2 L1010.6,532.8 L1014.1,537.0 L1017.6,507.7 L1023.1,470.0 L1028.7,471.5 L1032.2,488.2 L1035.7,443.7 L1039.8,442.3 L1044.5,434.5 L1047.2,451.2 L1050.6,444.5 L1053.9,460.1 L1055.6,440.0 L1059.5,433.4 L1063.4,449.0 L1068.4,456.8 L1072.3,446.8 L1077.9,451.2 L1081.2,480.2 L1085.1,485.2 L1087.9,476.8 L1090.7,479.0 L1094.0,457.9 L1097.9,464.6 L1102.3,469.0 L1104.0,473.5 L1105.1,500.2 L1107.9,496.9 L1112.4,486.8 L1114.6,496.9 L1117.9,488.0 L1125.7,492.4 L1128.0,477.9 L1130.2,469.0 L1134.6,473.5 L1139.6,449.0 L1144.7,452.3 L1146.9,453.4 L1150.2,473.5 L1153.6,480.2 L1156.3,533.6 L1159.7,520.2 L1162.5,522.5 L1165.8,501.3 L1171.4,494.6 L1174.7,484.6 L1176.4,465.7 L1180.3,471.3 L1184.2,456.8 L1185.8,472.4 L1189.2,460.1 L1192.5,454.6 L1199.2,462.3 L1204.8,466.8 L1208.1,460.7 L1212.0,464.6 L1215.9,441.2 L1222.6,430.1 L1229.3,433.4 L1233.7,451.2 L1238.2,441.2 L1243.7,445.6 L1249.3,434.5 L1253.8,433.4 L1256.5,415.0 L1260.0,397.5 L1264.5,391.4 L1266.1,374.5 L1269.9,377.6 L1273.7,368.4 L1277.6,371.5 L1279.1,345.4 L1283.7,330.1 L1287.5,283.4 L1291.3,290.3 L1295.9,305.6 L1299.0,298.0 L1303.6,261.2 L1308.2,232.1 L1310.5,262.8 L1314.3,249.0 L1317.4,228.3 L1322.7,236.7 L1328.1,226.0 L1332.7,233.7 L1335.7,252.8 L1338.8,235.2 L1341.9,229.9 L1344.9,261.2 L1348.7,296.4 L1352.6,293.4 L1357.9,280.4 L1361.8,293.4 L1367.9,294.9 L1372.5,307.9 L1377.1,285.7 L1381.7,264.3 L1387.8,252.1 L1394.7,244.4 L1398.5,262.8 L1402.3,259.7 L1404.6,269.7 L1407.7,256.6 L1412.3,224.5 L1416.9,226.0 L1421.5,221.4 L1425.8,214.5 L1429.1,223.0 L1431.2,232.4 L1434.1,250.7 L1437.1,251.3 L1440.1,259.0 L1443.6,247.7 L1447.1,256.0 L1449.5,271.4 L1453.1,269.0 L1457.2,291.5 L1462.5,270.2 L1466.7,273.8 L1470.8,285.6 L1480.3,285.6 L1483.2,258.4 L1488.0,258.4 L1491.5,272.6 L1493.9,277.3 L1498.6,279.7 L1502.1,285.6 L1504.5,301.0 L1510.4,314.0 L1516.3,315.2 L1519.3,327.0 L1521.7,360.1 L1525.8,360.1 L1528.8,371.3 L1531.1,361.3 L1534.1,361.3 L1537.6,348.3 L1543.5,343.5 L1547.1,340.0 L1551.8,368.4 L1555.4,367.2 L1559.5,353.6 L1562.5,368.4 L1566.0,375.5 L1571.9,369.0 L1576.7,368.4 L1583.2,358.3 L1587.3,392.0 L1591.4,392.6 L1597.9,385.0 L1602.7,387.3 L1609.8,389.7 L1612.7,380.2 L1616.3,355.4 L1621.0,343.5 L1622.4,343.8 L1627.1,355.6 L1631.2,340.2 L1637.7,352.0 L1641.3,352.0 L1641.9,322.5 L1647.2,321.3 L1651.9,320.1 L1654.9,311.8 L1658.4,326.0 L1662.0,316.6 L1668.5,329.6 L1673.2,322.5 L1680.9,334.3 L1684.5,322.5 L1686.2,311.8 L1689.8,310.6 L1696.9,312.4 L1704.0,316.6 L1708.7,316.6 L1712.3,331.9 L1720.5,334.3 L1726.4,331.9 L1730.0,322.5 L1733.5,327.8 L1737.1,327.2 L1741.8,297.6 L1747.7,287.0 L1752.5,285.8 L1756.0,278.7 L1760.7,265.7 L1764.3,274.6 L1769.0,271.6 L1773.8,265.7 L1777.3,273.4 L1784.4,272.8 L1788.0,263.3 L1791.5,248.0 L1795.0,243.2 L1797.4,226.7 L1800.4,210.1 L1803.3,208.3 L1806.9,213.7 L1810.4,204.8 L1813.9,207.9 L1816.8,213.8 L1822.7,217.7 L1829.0,224.5 L1834.4,208.9 L1838.3,211.8 L1842.1,207.0 L1847.0,217.7 L1851.9,221.6 L1854.8,236.2 L1860.7,209.9 L1864.6,210.9 L1866.0,231.3 L1874.3,231.3 L1876.2,217.7 L1882.1,239.1 L1887.9,218.7 L1891.8,214.8 L1895.7,221.6 L1900.6,208.9 L1905.5,211.8 L1907.4,206.0 L1911.3,180.7 L1916.2,165.1 L1920.1,163.1 L1925.9,156.3 L1928.8,169.0 L1932.3,171.9 L1935.2,165.1 L1937.6,171.4 L1941.0,161.2 L1945.4,159.2 L1948.3,166.0 L1956.1,167.0 L1959.0,169.0 L1962.0,190.4 L1965.9,188.5 L1967.8,180.7 L1970.7,184.6 L1975.6,195.3 L1977.6,186.5 L1981.5,184.6 L1985.4,172.9 L1989.3,157.3 L1992.2,154.4 L1997.0,151.4 L2000.0,154.6 L2004.2,156.7 L2008.3,161.7 L2012.5,153.4 L2017.5,141.3 L2023.4,142.1 L2025.9,143.4 L2029.2,145.0 L2030.9,141.7 L2034.6,143.4 L2040.0,151.7 L2045.1,145.9 L2049.2,146.3 L2052.6,145.0 L2055.9,136.7 L2058.4,140.9 L2060.5,150.0 L2065.1,146.7 L2068.4,149.2 L2071.8,156.7 L2075.1,163.8 L2079.3,170.1 L2081.5,170.2 L2081.5,1391.5 L0.0,1391.5 Z" fill="rgba(255,0,0,0.2)" clip-path="url(#c4)"/>
<path d="M0.0,1272.0 L3.6,1234.2 L8.3,1198.6 L14.2,1175.0 L17.8,1153.6 L20.1,1132.3 L22.5,1125.2 L24.9,1092.0 L27.2,1056.6 L29.6,1032.9 L30.8,970.1 L34.3,1044.7 L36.7,1013.9 L40.3,995.0 L43.8,1013.9 L47.4,1016.3 L53.3,1000.9 L56.8,1009.2 L60.4,1030.5 L65.1,1032.9 L68.7,1044.7 L71.0,1073.1 L73.4,1049.5 L78.1,1051.8 L81.7,1042.4 L85.2,1037.6 L88.8,1041.2 L92.4,1028.1 L97.1,999.7 L100.6,1011.6 L104.2,1005.6 L111.3,1008.0 L114.8,998.5 L117.2,980.8 L119.9,946.8 L124.5,939.1 L126.8,900.8 L129.9,862.5 L132.2,816.6 L132.9,770.6 L136.8,748.4 L140.1,759.9 L143.7,761.4 L145.9,805.9 L149.0,786.0 L152.1,753.8 L155.9,764.5 L160.5,766.0 L165.2,768.4 L169.2,794.0 L173.2,805.0 L177.2,816.0 L181.2,799.0 L185.2,808.0 L190.0,839.0 L195.6,854.0 L199.0,830.0 L200.4,850.0 L205.2,847.0 L213.2,845.0 L214.8,815.0 L221.2,795.6 L224.4,810.0 L230.8,807.6 L234.8,801.0 L240.4,801.0 L245.2,811.0 L250.0,810.0 L253.2,831.0 L258.0,835.6 L264.4,837.0 L267.6,858.0 L272.4,887.0 L274.8,866.0 L279.6,863.0 L285.2,887.0 L288.4,869.0 L292.4,861.0 L296.4,869.0 L302.8,866.0 L307.6,885.0 L310.8,888.0 L313.2,907.6 L318.0,911.0 L321.2,939.6 L323.6,914.0 L325.2,930.0 L330.0,932.0 L334.8,925.0 L339.6,911.0 L344.2,900.5 L348.3,910.0 L351.1,922.8 L353.9,911.7 L356.7,917.0 L360.9,929.8 L365.0,935.3 L367.1,922.8 L374.8,922.8 L381.7,934.0 L387.3,924.0 L392.9,918.6 L397.0,890.8 L399.8,906.0 L405.4,897.8 L409.6,909.0 L414.5,914.5 L415.8,929.8 L422.8,922.8 L424.9,929.8 L433.2,928.4 L438.8,920.0 L445.8,903.3 L450.6,867.0 L454.1,888.0 L459.7,871.3 L465.2,847.7 L469.4,845.6 L472.9,853.2 L477.8,843.5 L482.0,865.8 L487.5,870.0 L493.1,858.8 L496.6,846.3 L500.0,850.5 L504.2,857.4 L519.5,853.2 L526.5,840.7 L530.6,843.5 L534.8,840.7 L537.6,847.7 L540.4,833.8 L548.7,776.7 L552.5,795.4 L558.3,797.0 L562.5,792.0 L566.7,797.0 L575.0,813.8 L581.7,812.0 L585.0,805.4 L593.4,808.8 L600.0,803.7 L606.8,797.0 L609.3,787.0 L615.1,788.7 L620.1,782.0 L628.5,775.4 L633.5,760.3 L637.7,742.8 L643.5,768.7 L650.2,745.3 L656.9,740.3 L660.2,727.0 L665.2,711.9 L668.5,715.2 L673.6,748.6 L679.4,718.6 L685.2,718.6 L688.6,711.9 L691.9,695.2 L693.9,678.4 L699.7,652.1 L705.6,622.9 L709.0,606.3 L711.0,624.8 L717.3,626.8 L720.2,627.7 L723.6,661.9 L726.1,618.0 L728.5,615.1 L732.9,593.6 L735.8,566.3 L739.7,566.3 L741.7,561.4 L745.1,549.7 L748.5,559.5 L752.4,580.0 L756.3,579.0 L760.0,549.7 L762.9,525.7 L769.7,516.0 L772.6,492.5 L776.5,520.8 L780.4,469.0 L788.2,418.5 L791.7,372.7 L794.0,406.8 L800.0,392.0 L803.8,406.8 L808.7,434.0 L815.5,478.9 L820.4,445.8 L826.2,436.0 L831.1,477.0 L836.0,475.0 L839.9,500.3 L846.7,473.0 L854.5,458.4 L860.3,473.0 L864.2,492.5 L868.1,486.7 L872.8,509.0 L876.3,514.7 L881.1,503.5 L883.9,510.5 L888.1,498.0 L892.3,477.0 L897.8,510.5 L903.4,502.0 L906.9,491.7 L910.4,513.3 L914.5,503.5 L920.1,505.0 L925.0,514.7 L928.5,509.0 L938.2,509.0 L941.7,524.4 L943.1,560.6 L943.8,570.4 L947.3,564.8 L953.5,599.6 L955.6,570.4 L958.4,570.4 L961.9,566.2 L966.0,585.0 L973.0,584.3 L975.1,588.5 L978.6,578.7 L984.2,577.3 L992.5,569.0 L1000.9,564.8 L1003.6,534.2 L1010.6,532.8 L1014.1,537.0 L1017.6,507.7 L1023.1,470.0 L1028.7,471.5 L1032.2,488.2 L1035.7,443.7 L1039.8,442.3 L1044.5,434.5 L1047.2,451.2 L1050.6,444.5 L1053.9,460.1 L1055.6,440.0 L1059.5,433.4 L1063.4,449.0 L1068.4,456.8 L1072.3,446.8 L1077.9,451.2 L1081.2,480.2 L1085.1,485.2 L1087.9,476.8 L1090.7,479.0 L1094.0,457.9 L1097.9,464.6 L1102.3,469.0 L1104.0,473.5 L1105.1,500.2 L1107.9,496.9 L1112.4,486.8 L1114.6,496.9 L1117.9,488.0 L1125.7,492.4 L1128.0,477.9 L1130.2,469.0 L1134.6,473.5 L1139.6,449.0 L1144.7,452.3 L1146.9,453.4 L1150.2,473.5 L1153.6,480.2 L1156.3,533.6 L1159.7,520.2 L1162.5,522.5 L1165.8,501.3 L1171.4,494.6 L1174.7,484.6 L1176.4,465.7 L1180.3,471.3 L1184.2,456.8 L1185.8,472.4 L1189.2,460.1 L1192.5,454.6 L1199.2,462.3 L1204.8,466.8 L1208.1,460.7 L1212.0,464.6 L1215.9,441.2 L1222.6,430.1 L1229.3,433.4 L1233.7,451.2 L1238.2,441.2 L1243.7,445.6 L1249.3,434.5 L1253.8,433.4 L1256.5,415.0 L1260.0,397.5 L1264.5,391.4 L1266.1,374.5 L1269.9,377.6 L1273.7,368.4 L1277.6,371.5 L1279.1,345.4 L1283.7,330.1 L1287.5,283.4 L1291.3,290.3 L1295.9,305.6 L1299.0,298.0 L1303.6,261.2 L1308.2,232.1 L1310.5,262.8 L1314.3,249.0 L1317.4,228.3 L1322.7,236.7 L1328.1,226.0 L1332.7,233.7 L1335.7,252.8 L1338.8,235.2 L1341.9,229.9 L1344.9,261.2 L1348.7,296.4 L1352.6,293.4 L1357.9,280.4 L1361.8,293.4 L1367.9,294.9 L1372.5,307.9 L1377.1,285.7 L1381.7,264.3 L1387.8,252.1 L1394.7,244.4 L1398.5,262.8 L1402.3,259.7 L1404.6,269.7 L1407.7,256.6 L1412.3,224.5 L1416.9,226.0 L1421.5,221.4 L1425.8,214.5 L1429.1,223.0 L1431.2,232.4 L1434.1,250.7 L1437.1,251.3 L1440.1,259.0 L1443.6,247.7 L1447.1,256.0 L1449.5,271.4 L1453.1,269.0 L1457.2,291.5 L1462.5,270.2 L1466.7,273.8 L1470.8,285.6 L1480.3,285.6 L1483.2,258.4 L1488.0,258.4 L1491.5,272.6 L1493.9,277.3 L1498.6,279.7 L1502.1,285.6 L1504.5,301.0 L1510.4,314.0 L1516.3,315.2 L1519.3,327.0 L1521.7,360.1 L1525.8,360.1 L1528.8,371.3 L1531.1,361.3 L1534.1,361.3 L1537.6,348.3 L1543.5,343.5 L1547.1,340.0 L1551.8,368.4 L1555.4,367.2 L1559.5,353.6 L1562.5,368.4 L1566.0,375.5 L1571.9,369.0 L1576.7,368.4 L1583.2,358.3 L1587.3,392.0 L1591.4,392.6 L1597.9,385.0 L1602.7,387.3 L1609.8,389.7 L1612.7,380.2 L1616.3,355.4 L1621.0,343.5 L1622.4,343.8 L1627.1,355.6 L1631.2,340.2 L1637.7,352.0 L1641.3,352.0 L1641.9,322.5 L1647.2,321.3 L1651.9,320.1 L1654.9,311.8 L1658.4,326.0 L1662.0,316.6 L1668.5,329.6 L1673.2,322.5 L1680.9,334.3 L1684.5,322.5 L1686.2,311.8 L1689.8,310.6 L1696.9,312.4 L1704.0,316.6 L1708.7,316.6 L1712.3,331.9 L1720.5,334.3 L1726.4,331.9 L1730.0,322.5 L1733.5,327.8 L1737.1,327.2 L1741.8,297.6 L1747.7,287.0 L1752.5,285.8 L1756.0,278.7 L1760.7,265.7 L1764.3,274.6 L1769.0,271.6 L1773.8,265.7 L1777.3,273.4 L1784.4,272.8 L1788.0,263.3 L1791.5,248.0 L1795.0,243.2 L1797.4,226.7 L1800.4,210.1 L1803.3,208.3 L1806.9,213.7 L1810.4,204.8 L1813.9,207.9 L1816.8,213.8 L1822.7,217.7 L1829.0,224.5 L1834.4,208.9 L1838.3,211.8 L1842.1,207.0 L1847.0,217.7 L1851.9,221.6 L1854.8,236.2 L1860.7,209.9 L1864.6,210.9 L1866.0,231.3 L1874.3,231.3 L1876.2,217.7 L1882.1,239.1 L1887.9,218.7 L1891.8,214.8 L1895.7,221.6 L1900.6,208.9 L1905.5,211.8 L1907.4,206.0 L1911.3,180.7 L1916.2,165.1 L1920.1,163.1 L1925.9,156.3 L1928.8,169.0 L1932.3,171.9 L1935.2,165.1 L1937.6,171.4 L1941.0,161.2 L1945.4,159.2 L1948.3,166.0 L1956.1,167.0 L1959.0,169.0 L1962.0,190.4 L1965.9,188.5 L1967.8,180.7 L1970.7,184.6 L1975.6,195.3 L1977.6,186.5 L1981.5,184.6 L1985.4,172.9 L1989.3,157.3 L1992.2,154.4 L1997.0,151.4 L2000.0,154.6 L2004.2,156.7 L2008.3,161.7 L2012.5,153.4 L2017.5,141.3 L2023.4,142.1 L2025.9,143.4 L2029.2,145.0 L2030.9,141.7 L2034.6,143.4 L2040.0,151.7 L2045.1,145.9 L2049.2,146.3 L2052.6,145.0 L2055.9,136.7 L2058.4,140.9 L2060.5,150.0 L2065.1,146.7 L2068.4,149.2 L2071.8,156.7 L2075.1,163.8 L2079.3,170.1 L2081.5,170.2 L2081.5,1391.5 L0.0,1391.5 Z" fill="rgba(0,255,0,0.2)" clip-path="url(#c5)"/>
<path d="M0.0,1272.0 L3.6,1234.2 L8.3,1198.6 L14.2,1175.0 L17.8,1153.6 L20.1,1132.3 L22.5,1125.2 L24.9,1092.0 L27.2,1056.6 L29.6,1032.9 L30.8,970.1 L34.3,1044.7 L36.7,1013.9 L40.3,995.0 L43.8,1013.9 L47.4,1016.3 L53.3,1000.9 L56.8,1009.2 L60.4,1030.5 L65.1,1032.9 L68.7,1044.7 L71.0,1073.1 L73.4,1049.5 L78.1,1051.8 L81.7,1042.4 L85.2,1037.6 L88.8,1041.2 L92.4,1028.1 L97.1,999.7 L100.6,1011.6 L104.2,1005.6 L111.3,1008.0 L114.8,998.5 L117.2,980.8 L119.9,946.8 L124.5,939.1 L126.8,900.8 L129.9,862.5 L132.2,816.6 L132.9,770.6 L136.8,748.4 L140.1,759.9 L143.7,761.4 L145.9,805.9 L149.0,786.0 L152.1,753.8 L155.9,764.5 L160.5,766.0 L165.2,768.4 L169.2,794.0 L173.2,805.0 L177.2,816.0 L181.2,799.0 L185.2,808.0 L190.0,839.0 L195.6,854.0 L199.0,830.0 L200.4,850.0 L205.2,847.0 L213.2,845.0 L214.8,815.0 L221.2,795.6 L224.4,810.0 L230.8,807.6 L234.8,801.0 L240.4,801.0 L245.2,811.0 L250.0,810.0 L253.2,831.0 L258.0,835.6 L264.4,837.0 L267.6,858.0 L272.4,887.0 L274.8,866.0 L279.6,863.0 L285.2,887.0 L288.4,869.0 L292.4,861.0 L296.4,869.0 L302.8,866.0 L307.6,885.0 L310.8,888.0 L313.2,907.6 L318.0,911.0 L321.2,939.6 L323.6,914.0 L325.2,930.0 L330.0,932.0 L334.8,925.0 L339.6,911.0 L344.2,900.5 L348.3,910.0 L351.1,922.8 L353.9,911.7 L356.7,917.0 L360.9,929.8 L365.0,935.3 L367.1,922.8 L374.8,922.8 L381.7,934.0 L387.3,924.0 L392.9,918.6 L397.0,890.8 L399.8,906.0 L405.4,897.8 L409.6,909.0 L414.5,914.5 L415.8,929.8 L422.8,922.8 L424.9,929.8 L433.2,928.4 L438.8,920.0 L445.8,903.3 L450.6,867.0 L454.1,888.0 L459.7,871.3 L465.2,847.7 L469.4,845.6 L472.9,853.2 L477.8,843.5 L482.0,865.8 L487.5,870.0 L493.1,858.8 L496.6,846.3 L500.0,850.5 L504.2,857.4 L519.5,853.2 L526.5,840.7 L530.6,843.5 L534.8,840.7 L537.6,847.7 L540.4,833.8 L548.7,776.7 L552.5,795.4 L558.3,797.0 L562.5,792.0 L566.7,797.0 L575.0,813.8 L581.7,812.0 L585.0,805.4 L593.4,808.8 L600.0,803.7 L606.8,797.0 L609.3,787.0 L615.1,788.7 L620.1,782.0 L628.5,775.4 L633.5,760.3 L637.7,742.8 L643.5,768.7 L650.2,745.3 L656.9,740.3 L660.2,727.0 L665.2,711.9 L668.5,715.2 L673.6,748.6 L679.4,718.6 L685.2,718.6 L688.6,711.9 L691.9,695.2 L693.9,678.4 L699.7,652.1 L705.6,622.9 L709.0,606.3 L711.0,624.8 L717.3,626.8 L720.2,627.7 L723.6,661.9 L726.1,618.0 L728.5,615.1 L732.9,593.6 L735.8,566.3 L739.7,566.3 L741.7,561.4 L745.1,549.7 L748.5,559.5 L752.4,580.0 L756.3,579.0 L760.0,549.7 L762.9,525.7 L769.7,516.0 L772.6,492.5 L776.5,520.8 L780.4,469.0 L788.2,418.5 L791.7,372.7 L794.0,406.8 L800.0,392.0 L803.8,406.8 L808.7,434.0 L815.5,478.9 L820.4,445.8 L826.2,436.0 L831.1,477.0 L836.0,475.0 L839.9,500.3 L846.7,473.0 L854.5,458.4 L860.3,473.0 L864.2,492.5 L868.1,486.7 L872.8,509.0 L876.3,514.7 L881.1,503.5 L883.9,510.5 L888.1,498.0 L892.3,477.0 L897.8,510.5 L903.4,502.0 L906.9,491.7 L910.4,513.3 L914.5,503.5 L920.1,505.0 L925.0,514.7 L928.5,509.0 L938.2,509.0 L941.7,524.4 L943.1,560.6 L943.8,570.4 L947.3,564.8 L953.5,599.6 L955.6,570.4 L958.4,570.4 L961.9,566.2 L966.0,585.0 L973.0,584.3 L975.1,588.5 L978.6,578.7 L984.2,577.3 L992.5,569.0 L1000.9,564.8 L1003.6,534.2 L1010.6,532.8 L1014.1,537.0 L1017.6,507.7 L1023.1,470.0 L1028.7,471.5 L1032.2,488.2 L1035.7,443.7 L1039.8,442.3 L1044.5,434.5 L1047.2,451.2 L1050.6,444.5 L1053.9,460.1 L1055.6,440.0 L1059.5,433.4 L1063.4,449.0 L1068.4,456.8 L1072.3,446.8 L1077.9,451.2 L1081.2,480.2 L1085.1,485.2 L1087.9,476.8 L1090.7,479.0 L1094.0,457.9 L1097.9,464.6 L1102.3,469.0 L1104.0,473.5 L1105.1,500.2 L1107.9,496.9 L1112.4,486.8 L1114.6,496.9 L1117.9,488.0 L1125.7,492.4 L1128.0,477.9 L1130.2,469.0 L1134.6,473.5 L1139.6,449.0 L1144.7,452.3 L1146.9,453.4 L1150.2,473.5 L1153.6,480.2 L1156.3,533.6 L1159.7,520.2 L1162.5,522.5 L1165.8,501.3 L1171.4,494.6 L1174.7,484.6 L1176.4,465.7 L1180.3,471.3 L1184.2,456.8 L1185.8,472.4 L1189.2,460.1 L1192.5,454.6 L1199.2,462.3 L1204.8,466.8 L1208.1,460.7 L1212.0,464.6 L1215.9,441.2 L1222.6,430.1 L1229.3,433.4 L1233.7,451.2 L1238.2,441.2 L1243.7,445.6 L1249.3,434.5 L1253.8,433.4 L1256.5,415.0 L1260.0,397.5 L1264.5,391.4 L1266.1,374.5 L1269.9,377.6 L1273.7,368.4 L1277.6,371.5 L1279.1,345.4 L1283.7,330.1 L1287.5,283.4 L1291.3,290.3 L1295.9,305.6 L1299.0,298.0 L1303.6,261.2 L1308.2,232.1 L1310.5,262.8 L1314.3,249.0 L1317.4,228.3 L1322.7,236.7 L1328.1,226.0 L1332.7,233.7 L1335.7,252.8 L1338.8,235.2 L1341.9,229.9 L1344.9,261.2 L1348.7,296.4 L1352.6,293.4 L1357.9,280.4 L1361.8,293.4 L1367.9,294.9 L1372.5,307.9 L1377.1,285.7 L1381.7,264.3 L1387.8,252.1 L1394.7,244.4 L1398.5,262.8 L1402.3,259.7 L1404.6,269.7 L1407.7,256.6 L1412.3,224.5 L1416.9,226.0 L1421.5,221.4 L1425.8,214.5 L1429.1,223.0 L1431.2,232.4 L1434.1,250.7 L1437.1,251.3 L1440.1,259.0 L1443.6,247.7 L1447.1,256.0 L1449.5,271.4 L1453.1,269.0 L1457.2,291.5 L1462.5,270.2 L1466.7,273.8 L1470.8,285.6 L1480.3,285.6 L1483.2,258.4 L1488.0,258.4 L1491.5,272.6 L1493.9,277.3 L1498.6,279.7 L1502.1,285.6 L1504.5,301.0 L1510.4,314.0 L1516.3,315.2 L1519.3,327.0 L1521.7,360.1 L1525.8,360.1 L1528.8,371.3 L1531.1,361.3 L1534.1,361.3 L1537.6,348.3 L1543.5,343.5 L1547.1,340.0 L1551.8,368.4 L1555.4,367.2 L1559.5,353.6 L1562.5,368.4 L1566.0,375.5 L1571.9,369.0 L1576.7,368.4 L1583.2,358.3 L1587.3,392.0 L1591.4,392.6 L1597.9,385.0 L1602.7,387.3 L1609.8,389.7 L1612.7,380.2 L1616.3,355.4 L1621.0,343.5 L1622.4,343.8 L1627.1,355.6 L1631.2,340.2 L1637.7,352.0 L1641.3,352.0 L1641.9,322.5 L1647.2,321.3 L1651.9,320.1 L1654.9,311.8 L1658.4,326.0 L1662.0,316.6 L1668.5,329.6 L1673.2,322.5 L1680.9,334.3 L1684.5,322.5 L1686.2,311.8 L1689.8,310.6 L1696.9,312.4 L1704.0,316.6 L1708.7,316.6 L1712.3,331.9 L1720.5,334.3 L1726.4,331.9 L1730.0,322.5 L1733.5,327.8 L1737.1,327.2 L1741.8,297.6 L1747.7,287.0 L1752.5,285.8 L1756.0,278.7 L1760.7,265.7 L1764.3,274.6 L1769.0,271.6 L1773.8,265.7 L1777.3,273.4 L1784.4,272.8 L1788.0,263.3 L1791.5,248.0 L1795.0,243.2 L1797.4,226.7 L1800.4,210.1 L1803.3,208.3 L1806.9,213.7 L1810.4,204.8 L1813.9,207.9 L1816.8,213.8 L1822.7,217.7 L1829.0,224.5 L1834.4,208.9 L1838.3,211.8 L1842.1,207.0 L1847.0,217.7 L1851.9,221.6 L1854.8,236.2 L1860.7,209.9 L1864.6,210.9 L1866.0,231.3 L1874.3,231.3 L1876.2,217.7 L1882.1,239.1 L1887.9,218.7 L1891.8,214.8 L1895.7,221.6 L1900.6,208.9 L1905.5,211.8 L1907.4,206.0 L1911.3,180.7 L1916.2,165.1 L1920.1,163.1 L1925.9,156.3 L1928.8,169.0 L1932.3,171.9 L1935.2,165.1 L1937.6,171.4 L1941.0,161.2 L1945.4,159.2 L1948.3,166.0 L1956.1,167.0 L1959.0,169.0 L1962.0,190.4 L1965.9,188.5 L1967.8,180.7 L1970.7,184.6 L1975.6,195.3 L1977.6,186.5 L1981.5,184.6 L1985.4,172.9 L1989.3,157.3 L1992.2,154.4 L1997.0,151.4 L2000.0,154.6 L2004.2,156.7 L2008.3,161.7 L2012.5,153.4 L2017.5,141.3 L2023.4,142.1 L2025.9,143.4 L2029.2,145.0 L2030.9,141.7 L2034.6,143.4 L2040.0,151.7 L2045.1,145.9 L2049.2,146.3 L2052.6,145.0 L2055.9,136.7 L2058.4,140.9 L2060.5,150.0 L2065.1,146.7 L2068.4,149.2 L2071.8,156.7 L2075.1,163.8 L2079.3,170.1 L2081.5,170.2 L2081.5,1391.5 L0.0,1391.5 Z" fill="#ff0000" clip-path="url(#c6)"/>
<path d="M2080.6,177.0 L2087.7,177.0 L2097.5,175.0 L2107.2,174.0 L2112.1,176.0 L2118.9,177.0 L2126.7,171.1 L2136.5,170.2 L2146.2,169.2 L2152.0,177.0 L2159.8,184.8 L2163.7,185.8 L2170.5,182.8 L2182.3,181.9 L2187.1,187.7 L2194.9,201.4 L2204.7,215.0 L2214.4,218.9 L2216.5,219.0 L2216.5,1391.5 L2080.6,1391.5 Z" fill="rgba(255,0,0,0.41)"/>
<g><circle cx="2077" cy="1356" r="19.3" fill="none" stroke="#d42236" stroke-width="2.8"/><clipPath id="ic"><circle cx="2077" cy="1356" r="15.8"/></clipPath><g clip-path="url(#ic)"><rect x="2060" y="1339" width="34" height="36" fill="#ee3242"/><rect x="2060" y="1347" width="34" height="6" fill="#ff8c8c"/><rect x="2060" y="1359.2" width="34" height="5.6" fill="#ff8c8c"/></g></g>
<path d="M0.0,1272.0 L3.6,1234.2 L8.3,1198.6 L14.2,1175.0 L17.8,1153.6 L20.1,1132.3 L22.5,1125.2 L24.9,1092.0 L27.2,1056.6 L29.6,1032.9 L30.8,970.1 L34.3,1044.7 L36.7,1013.9 L40.3,995.0 L43.8,1013.9 L47.4,1016.3 L53.3,1000.9 L56.8,1009.2 L60.4,1030.5 L65.1,1032.9 L68.7,1044.7 L71.0,1073.1 L73.4,1049.5 L78.1,1051.8 L81.7,1042.4 L85.2,1037.6 L88.8,1041.2 L92.4,1028.1 L97.1,999.7 L100.6,1011.6 L104.2,1005.6 L111.3,1008.0 L114.8,998.5 L117.2,980.8 L119.9,946.8 L124.5,939.1 L126.8,900.8 L129.9,862.5 L132.2,816.6 L132.9,770.6 L136.8,748.4 L140.1,759.9 L143.7,761.4 L145.9,805.9 L149.0,786.0 L152.1,753.8 L155.9,764.5 L160.5,766.0 L165.2,768.4 L169.2,794.0 L173.2,805.0 L177.2,816.0 L181.2,799.0 L185.2,808.0 L190.0,839.0 L195.6,854.0 L199.0,830.0 L200.4,850.0 L205.2,847.0 L213.2,845.0 L214.8,815.0 L221.2,795.6 L224.4,810.0 L230.8,807.6 L234.8,801.0 L240.4,801.0 L245.2,811.0 L250.0,810.0 L253.2,831.0 L258.0,835.6 L264.4,837.0 L267.6,858.0 L272.4,887.0 L274.8,866.0 L279.6,863.0 L285.2,887.0 L288.4,869.0 L292.4,861.0 L296.4,869.0 L302.8,866.0 L307.6,885.0 L310.8,888.0 L313.2,907.6 L318.0,911.0 L321.2,939.6 L323.6,914.0 L325.2,930.0 L330.0,932.0 L334.8,925.0 L339.6,911.0 L344.2,900.5 L348.3,910.0 L351.1,922.8 L353.9,911.7 L356.7,917.0 L360.9,929.8 L365.0,935.3 L367.1,922.8 L374.8,922.8 L381.7,934.0 L387.3,924.0 L392.9,918.6 L397.0,890.8 L399.8,906.0 L405.4,897.8 L409.6,909.0 L414.5,914.5 L415.8,929.8 L422.8,922.8 L424.9,929.8 L433.2,928.4 L438.8,920.0 L445.8,903.3 L450.6,867.0 L454.1,888.0 L459.7,871.3 L465.2,847.7 L469.4,845.6 L472.9,853.2 L477.8,843.5 L482.0,865.8 L487.5,870.0 L493.1,858.8 L496.6,846.3 L500.0,850.5 L504.2,857.4 L519.5,853.2 L526.5,840.7 L530.6,843.5 L534.8,840.7 L537.6,847.7 L540.4,833.8 L548.7,776.7 L552.5,795.4 L558.3,797.0 L562.5,792.0 L566.7,797.0 L575.0,813.8 L581.7,812.0 L585.0,805.4 L593.4,808.8 L600.0,803.7 L606.8,797.0 L609.3,787.0 L615.1,788.7 L620.1,782.0 L628.5,775.4 L633.5,760.3 L637.7,742.8 L643.5,768.7 L650.2,745.3 L656.9,740.3 L660.2,727.0 L665.2,711.9 L668.5,715.2 L673.6,748.6 L679.4,718.6 L685.2,718.6 L688.6,711.9 L691.9,695.2 L693.9,678.4 L699.7,652.1 L705.6,622.9 L709.0,606.3 L711.0,624.8 L717.3,626.8 L720.2,627.7 L723.6,661.9 L726.1,618.0 L728.5,615.1 L732.9,593.6 L735.8,566.3 L739.7,566.3 L741.7,561.4 L745.1,549.7 L748.5,559.5 L752.4,580.0 L756.3,579.0 L760.0,549.7 L762.9,525.7 L769.7,516.0 L772.6,492.5 L776.5,520.8 L780.4,469.0 L788.2,418.5 L791.7,372.7 L794.0,406.8 L800.0,392.0 L803.8,406.8 L808.7,434.0 L815.5,478.9 L820.4,445.8 L826.2,436.0 L831.1,477.0 L836.0,475.0 L839.9,500.3 L846.7,473.0 L854.5,458.4 L860.3,473.0 L864.2,492.5 L868.1,486.7 L872.8,509.0 L876.3,514.7 L881.1,503.5 L883.9,510.5 L888.1,498.0 L892.3,477.0 L897.8,510.5 L903.4,502.0 L906.9,491.7 L910.4,513.3 L914.5,503.5 L920.1,505.0 L925.0,514.7 L928.5,509.0 L938.2,509.0 L941.7,524.4 L943.1,560.6 L943.8,570.4 L947.3,564.8 L953.5,599.6 L955.6,570.4 L958.4,570.4 L961.9,566.2 L966.0,585.0 L973.0,584.3 L975.1,588.5 L978.6,578.7 L984.2,577.3 L992.5,569.0 L1000.9,564.8 L1003.6,534.2 L1010.6,532.8 L1014.1,537.0 L1017.6,507.7 L1023.1,470.0 L1028.7,471.5 L1032.2,488.2 L1035.7,443.7 L1039.8,442.3 L1044.5,434.5 L1047.2,451.2 L1050.6,444.5 L1053.9,460.1 L1055.6,440.0 L1059.5,433.4 L1063.4,449.0 L1068.4,456.8 L1072.3,446.8 L1077.9,451.2 L1081.2,480.2 L1085.1,485.2 L1087.9,476.8 L1090.7,479.0 L1094.0,457.9 L1097.9,464.6 L1102.3,469.0 L1104.0,473.5 L1105.1,500.2 L1107.9,496.9 L1112.4,486.8 L1114.6,496.9 L1117.9,488.0 L1125.7,492.4 L1128.0,477.9 L1130.2,469.0 L1134.6,473.5 L1139.6,449.0 L1144.7,452.3 L1146.9,453.4 L1150.2,473.5 L1153.6,480.2 L1156.3,533.6 L1159.7,520.2 L1162.5,522.5 L1165.8,501.3 L1171.4,494.6 L1174.7,484.6 L1176.4,465.7 L1180.3,471.3 L1184.2,456.8 L1185.8,472.4 L1189.2,460.1 L1192.5,454.6 L1199.2,462.3 L1204.8,466.8 L1208.1,460.7 L1212.0,464.6 L1215.9,441.2 L1222.6,430.1 L1229.3,433.4 L1233.7,451.2 L1238.2,441.2 L1243.7,445.6 L1249.3,434.5 L1253.8,433.4 L1256.5,415.0 L1260.0,397.5 L1264.5,391.4 L1266.1,374.5 L1269.9,377.6 L1273.7,368.4 L1277.6,371.5 L1279.1,345.4 L1283.7,330.1 L1287.5,283.4 L1291.3,290.3 L1295.9,305.6 L1299.0,298.0 L1303.6,261.2 L1308.2,232.1 L1310.5,262.8 L1314.3,249.0 L1317.4,228.3 L1322.7,236.7 L1328.1,226.0 L1332.7,233.7 L1335.7,252.8 L1338.8,235.2 L1341.9,229.9 L1344.9,261.2 L1348.7,296.4 L1352.6,293.4 L1357.9,280.4 L1361.8,293.4 L1367.9,294.9 L1372.5,307.9 L1377.1,285.7 L1381.7,264.3 L1387.8,252.1 L1394.7,244.4 L1398.5,262.8 L1402.3,259.7 L1404.6,269.7 L1407.7,256.6 L1412.3,224.5 L1416.9,226.0 L1421.5,221.4 L1425.8,214.5 L1429.1,223.0 L1431.2,232.4 L1434.1,250.7 L1437.1,251.3 L1440.1,259.0 L1443.6,247.7 L1447.1,256.0 L1449.5,271.4 L1453.1,269.0 L1457.2,291.5 L1462.5,270.2 L1466.7,273.8 L1470.8,285.6 L1480.3,285.6 L1483.2,258.4 L1488.0,258.4 L1491.5,272.6 L1493.9,277.3 L1498.6,279.7 L1502.1,285.6 L1504.5,301.0 L1510.4,314.0 L1516.3,315.2 L1519.3,327.0 L1521.7,360.1 L1525.8,360.1 L1528.8,371.3 L1531.1,361.3 L1534.1,361.3 L1537.6,348.3 L1543.5,343.5 L1547.1,340.0 L1551.8,368.4 L1555.4,367.2 L1559.5,353.6 L1562.5,368.4 L1566.0,375.5 L1571.9,369.0 L1576.7,368.4 L1583.2,358.3 L1587.3,392.0 L1591.4,392.6 L1597.9,385.0 L1602.7,387.3 L1609.8,389.7 L1612.7,380.2 L1616.3,355.4 L1621.0,343.5 L1622.4,343.8 L1627.1,355.6 L1631.2,340.2 L1637.7,352.0 L1641.3,352.0 L1641.9,322.5 L1647.2,321.3 L1651.9,320.1 L1654.9,311.8 L1658.4,326.0 L1662.0,316.6 L1668.5,329.6 L1673.2,322.5 L1680.9,334.3 L1684.5,322.5 L1686.2,311.8 L1689.8,310.6 L1696.9,312.4 L1704.0,316.6 L1708.7,316.6 L1712.3,331.9 L1720.5,334.3 L1726.4,331.9 L1730.0,322.5 L1733.5,327.8 L1737.1,327.2 L1741.8,297.6 L1747.7,287.0 L1752.5,285.8 L1756.0,278.7 L1760.7,265.7 L1764.3,274.6 L1769.0,271.6 L1773.8,265.7 L1777.3,273.4 L1784.4,272.8 L1788.0,263.3 L1791.5,248.0 L1795.0,243.2 L1797.4,226.7 L1800.4,210.1 L1803.3,208.3 L1806.9,213.7 L1810.4,204.8 L1813.9,207.9 L1816.8,213.8 L1822.7,217.7 L1829.0,224.5 L1834.4,208.9 L1838.3,211.8 L1842.1,207.0 L1847.0,217.7 L1851.9,221.6 L1854.8,236.2 L1860.7,209.9 L1864.6,210.9 L1866.0,231.3 L1874.3,231.3 L1876.2,217.7 L1882.1,239.1 L1887.9,218.7 L1891.8,214.8 L1895.7,221.6 L1900.6,208.9 L1905.5,211.8 L1907.4,206.0 L1911.3,180.7 L1916.2,165.1 L1920.1,163.1 L1925.9,156.3 L1928.8,169.0 L1932.3,171.9 L1935.2,165.1 L1937.6,171.4 L1941.0,161.2 L1945.4,159.2 L1948.3,166.0 L1956.1,167.0 L1959.0,169.0 L1962.0,190.4 L1965.9,188.5 L1967.8,180.7 L1970.7,184.6 L1975.6,195.3 L1977.6,186.5 L1981.5,184.6 L1985.4,172.9 L1989.3,157.3 L1992.2,154.4 L1997.0,151.4 L2000.0,154.6 L2004.2,156.7 L2008.3,161.7 L2012.5,153.4 L2017.5,141.3 L2023.4,142.1 L2025.9,143.4 L2029.2,145.0 L2030.9,141.7 L2034.6,143.4 L2040.0,151.7 L2045.1,145.9 L2049.2,146.3 L2052.6,145.0 L2055.9,136.7 L2058.4,140.9 L2060.5,150.0 L2065.1,146.7 L2068.4,149.2 L2071.8,156.7 L2075.1,163.8 L2079.3,170.1 L2081.5,170.2 L2081.5,1391.5 L0.0,1391.5 Z" fill="#ff0000" clip-path="url(#c6)"/>
<path d="M0.0,1272.0 L3.6,1234.2 L8.3,1198.6 L14.2,1175.0 L17.8,1153.6 L20.1,1132.3 L22.5,1125.2 L24.9,1092.0 L27.2,1056.6 L29.6,1032.9 L30.8,970.1 L34.3,1044.7 L36.7,1013.9 L40.3,995.0 L43.8,1013.9 L47.4,1016.3 L53.3,1000.9 L56.8,1009.2 L60.4,1030.5 L65.1,1032.9 L68.7,1044.7 L71.0,1073.1 L73.4,1049.5 L78.1,1051.8 L81.7,1042.4 L85.2,1037.6 L88.8,1041.2 L92.4,1028.1 L97.1,999.7 L100.6,1011.6 L104.2,1005.6 L111.3,1008.0 L114.8,998.5 L117.2,980.8 L119.9,946.8 L124.5,939.1 L126.8,900.8 L129.9,862.5 L132.2,816.6 L132.9,770.6 L136.8,748.4 L140.1,759.9 L143.7,761.4 L145.9,805.9 L149.0,786.0 L152.1,753.8 L155.9,764.5 L160.5,766.0 L165.2,768.4 L169.2,794.0 L173.2,805.0 L177.2,816.0 L181.2,799.0 L185.2,808.0 L190.0,839.0 L195.6,854.0 L199.0,830.0 L200.4,850.0 L205.2,847.0 L213.2,845.0 L214.8,815.0 L221.2,795.6 L224.4,810.0 L230.8,807.6 L234.8,801.0 L240.4,801.0 L245.2,811.0 L250.0,810.0 L253.2,831.0 L258.0,835.6 L264.4,837.0 L267.6,858.0 L272.4,887.0 L274.8,866.0 L279.6,863.0 L285.2,887.0 L288.4,869.0 L292.4,861.0 L296.4,869.0 L302.8,866.0 L307.6,885.0 L310.8,888.0 L313.2,907.6 L318.0,911.0 L321.2,939.6 L323.6,914.0 L325.2,930.0 L330.0,932.0 L334.8,925.0 L339.6,911.0 L344.2,900.5 L348.3,910.0 L351.1,922.8 L353.9,911.7 L356.7,917.0 L360.9,929.8 L365.0,935.3 L367.1,922.8 L374.8,922.8 L381.7,934.0 L387.3,924.0 L392.9,918.6 L397.0,890.8 L399.8,906.0 L405.4,897.8 L409.6,909.0 L414.5,914.5 L415.8,929.8 L422.8,922.8 L424.9,929.8 L433.2,928.4 L438.8,920.0 L445.8,903.3 L450.6,867.0 L454.1,888.0 L459.7,871.3 L465.2,847.7 L469.4,845.6 L472.9,853.2 L477.8,843.5 L482.0,865.8 L487.5,870.0 L493.1,858.8 L496.6,846.3 L500.0,850.5 L504.2,857.4 L519.5,853.2 L526.5,840.7 L530.6,843.5 L534.8,840.7 L537.6,847.7 L540.4,833.8 L548.7,776.7 L552.5,795.4 L558.3,797.0 L562.5,792.0 L566.7,797.0 L575.0,813.8 L581.7,812.0 L585.0,805.4 L593.4,808.8 L600.0,803.7 L606.8,797.0 L609.3,787.0 L615.1,788.7 L620.1,782.0 L628.5,775.4 L633.5,760.3 L637.7,742.8 L643.5,768.7 L650.2,745.3 L656.9,740.3 L660.2,727.0 L665.2,711.9 L668.5,715.2 L673.6,748.6 L679.4,718.6 L685.2,718.6 L688.6,711.9 L691.9,695.2 L693.9,678.4 L699.7,652.1 L705.6,622.9 L709.0,606.3 L711.0,624.8 L717.3,626.8 L720.2,627.7 L723.6,661.9 L726.1,618.0 L728.5,615.1 L732.9,593.6 L735.8,566.3 L739.7,566.3 L741.7,561.4 L745.1,549.7 L748.5,559.5 L752.4,580.0 L756.3,579.0 L760.0,549.7 L762.9,525.7 L769.7,516.0 L772.6,492.5 L776.5,520.8 L780.4,469.0 L788.2,418.5 L791.7,372.7 L794.0,406.8 L800.0,392.0 L803.8,406.8 L808.7,434.0 L815.5,478.9 L820.4,445.8 L826.2,436.0 L831.1,477.0 L836.0,475.0 L839.9,500.3 L846.7,473.0 L854.5,458.4 L860.3,473.0 L864.2,492.5 L868.1,486.7 L872.8,509.0 L876.3,514.7 L881.1,503.5 L883.9,510.5 L888.1,498.0 L892.3,477.0 L897.8,510.5 L903.4,502.0 L906.9,491.7 L910.4,513.3 L914.5,503.5 L920.1,505.0 L925.0,514.7 L928.5,509.0 L938.2,509.0 L941.7,524.4 L943.1,560.6 L943.8,570.4 L947.3,564.8 L953.5,599.6 L955.6,570.4 L958.4,570.4 L961.9,566.2 L966.0,585.0 L973.0,584.3 L975.1,588.5 L978.6,578.7 L984.2,577.3 L992.5,569.0 L1000.9,564.8 L1003.6,534.2 L1010.6,532.8 L1014.1,537.0 L1017.6,507.7 L1023.1,470.0 L1028.7,471.5 L1032.2,488.2 L1035.7,443.7 L1039.8,442.3 L1044.5,434.5 L1047.2,451.2 L1050.6,444.5 L1053.9,460.1 L1055.6,440.0 L1059.5,433.4 L1063.4,449.0 L1068.4,456.8 L1072.3,446.8 L1077.9,451.2 L1081.2,480.2 L1085.1,485.2 L1087.9,476.8 L1090.7,479.0 L1094.0,457.9 L1097.9,464.6 L1102.3,469.0 L1104.0,473.5 L1105.1,500.2 L1107.9,496.9 L1112.4,486.8 L1114.6,496.9 L1117.9,488.0 L1125.7,492.4 L1128.0,477.9 L1130.2,469.0 L1134.6,473.5 L1139.6,449.0 L1144.7,452.3 L1146.9,453.4 L1150.2,473.5 L1153.6,480.2 L1156.3,533.6 L1159.7,520.2 L1162.5,522.5 L1165.8,501.3 L1171.4,494.6 L1174.7,484.6 L1176.4,465.7 L1180.3,471.3 L1184.2,456.8 L1185.8,472.4 L1189.2,460.1 L1192.5,454.6 L1199.2,462.3 L1204.8,466.8 L1208.1,460.7 L1212.0,464.6 L1215.9,441.2 L1222.6,430.1 L1229.3,433.4 L1233.7,451.2 L1238.2,441.2 L1243.7,445.6 L1249.3,434.5 L1253.8,433.4 L1256.5,415.0 L1260.0,397.5 L1264.5,391.4 L1266.1,374.5 L1269.9,377.6 L1273.7,368.4 L1277.6,371.5 L1279.1,345.4 L1283.7,330.1 L1287.5,283.4 L1291.3,290.3 L1295.9,305.6 L1299.0,298.0 L1303.6,261.2 L1308.2,232.1 L1310.5,262.8 L1314.3,249.0 L1317.4,228.3 L1322.7,236.7 L1328.1,226.0 L1332.7,233.7 L1335.7,252.8 L1338.8,235.2 L1341.9,229.9 L1344.9,261.2 L1348.7,296.4 L1352.6,293.4 L1357.9,280.4 L1361.8,293.4 L1367.9,294.9 L1372.5,307.9 L1377.1,285.7 L1381.7,264.3 L1387.8,252.1 L1394.7,244.4 L1398.5,262.8 L1402.3,259.7 L1404.6,269.7 L1407.7,256.6 L1412.3,224.5 L1416.9,226.0 L1421.5,221.4 L1425.8,214.5 L1429.1,223.0 L1431.2,232.4 L1434.1,250.7 L1437.1,251.3 L1440.1,259.0 L1443.6,247.7 L1447.1,256.0 L1449.5,271.4 L1453.1,269.0 L1457.2,291.5 L1462.5,270.2 L1466.7,273.8 L1470.8,285.6 L1480.3,285.6 L1483.2,258.4 L1488.0,258.4 L1491.5,272.6 L1493.9,277.3 L1498.6,279.7 L1502.1,285.6 L1504.5,301.0 L1510.4,314.0 L1516.3,315.2 L1519.3,327.0 L1521.7,360.1 L1525.8,360.1 L1528.8,371.3 L1531.1,361.3 L1534.1,361.3 L1537.6,348.3 L1543.5,343.5 L1547.1,340.0 L1551.8,368.4 L1555.4,367.2 L1559.5,353.6 L1562.5,368.4 L1566.0,375.5 L1571.9,369.0 L1576.7,368.4 L1583.2,358.3 L1587.3,392.0 L1591.4,392.6 L1597.9,385.0 L1602.7,387.3 L1609.8,389.7 L1612.7,380.2 L1616.3,355.4 L1621.0,343.5 L1622.4,343.8 L1627.1,355.6 L1631.2,340.2 L1637.7,352.0 L1641.3,352.0 L1641.9,322.5 L1647.2,321.3 L1651.9,320.1 L1654.9,311.8 L1658.4,326.0 L1662.0,316.6 L1668.5,329.6 L1673.2,322.5 L1680.9,334.3 L1684.5,322.5 L1686.2,311.8 L1689.8,310.6 L1696.9,312.4 L1704.0,316.6 L1708.7,316.6 L1712.3,331.9 L1720.5,334.3 L1726.4,331.9 L1730.0,322.5 L1733.5,327.8 L1737.1,327.2 L1741.8,297.6 L1747.7,287.0 L1752.5,285.8 L1756.0,278.7 L1760.7,265.7 L1764.3,274.6 L1769.0,271.6 L1773.8,265.7 L1777.3,273.4 L1784.4,272.8 L1788.0,263.3 L1791.5,248.0 L1795.0,243.2 L1797.4,226.7 L1800.4,210.1 L1803.3,208.3 L1806.9,213.7 L1810.4,204.8 L1813.9,207.9 L1816.8,213.8 L1822.7,217.7 L1829.0,224.5 L1834.4,208.9 L1838.3,211.8 L1842.1,207.0 L1847.0,217.7 L1851.9,221.6 L1854.8,236.2 L1860.7,209.9 L1864.6,210.9 L1866.0,231.3 L1874.3,231.3 L1876.2,217.7 L1882.1,239.1 L1887.9,218.7 L1891.8,214.8 L1895.7,221.6 L1900.6,208.9 L1905.5,211.8 L1907.4,206.0 L1911.3,180.7 L1916.2,165.1 L1920.1,163.1 L1925.9,156.3 L1928.8,169.0 L1932.3,171.9 L1935.2,165.1 L1937.6,171.4 L1941.0,161.2 L1945.4,159.2 L1948.3,166.0 L1956.1,167.0 L1959.0,169.0 L1962.0,190.4 L1965.9,188.5 L1967.8,180.7 L1970.7,184.6 L1975.6,195.3 L1977.6,186.5 L1981.5,184.6 L1985.4,172.9 L1989.3,157.3 L1992.2,154.4 L1997.0,151.4 L2000.0,154.6 L2004.2,156.7 L2008.3,161.7 L2012.5,153.4 L2017.5,141.3 L2023.4,142.1 L2025.9,143.4 L2029.2,145.0 L2030.9,141.7 L2034.6,143.4 L2040.0,151.7 L2045.1,145.9 L2049.2,146.3 L2052.6,145.0 L2055.9,136.7 L2058.4,140.9 L2060.5,150.0 L2065.1,146.7 L2068.4,149.2 L2071.8,156.7 L2075.1,163.8 L2079.3,170.1" fill="none" stroke="#fa8612" stroke-width="5.5" stroke-linejoin="round" stroke-linecap="round"/>
<circle cx="2079.3" cy="170.1" r="7.9" fill="#fa8612"/>
<circle cx="2056.6" cy="126.2" r="6.5" fill="#f4f4f4"/>
<line x1="139.4" y1="757.5" x2="139.4" y2="1391.5" stroke="#fff4f0" stroke-width="3" stroke-dasharray="10.6 18.73" stroke-dashoffset="14.27"/>
<line x1="323.6" y1="935.3" x2="323.6" y2="1391.5" stroke="#e8786e" stroke-width="3" stroke-dasharray="10.6 18.73" stroke-dashoffset="25.56"/>
<line x1="791.4" y1="376.6" x2="791.4" y2="1391.5" stroke="#fffaf0" stroke-width="3" stroke-dasharray="10.6 18.73" stroke-dashoffset="17.03"/>
<line x1="954.0" y1="596.8" x2="954.0" y2="1391.5" stroke="#e8707a" stroke-width="3" stroke-dasharray="10.6 18.73" stroke-dashoffset="3.75"/>
<line x1="1426.1" y1="215.3" x2="1426.1" y2="1391.5" stroke="#fffaf0" stroke-width="3" stroke-dasharray="10.6 18.73" stroke-dashoffset="0.02"/>
<line x1="1587.4" y1="392.5" x2="1587.4" y2="1391.5" stroke="#e8787a" stroke-width="3" stroke-dasharray="10.6 18.73" stroke-dashoffset="2.42"/>
<line x1="2056.6" y1="137.9" x2="2056.6" y2="1391.5" stroke="#fffaf0" stroke-width="3" stroke-dasharray="10.6 18.73" stroke-dashoffset="23.62"/>
<line x1="155.7" y1="1203.3" x2="305.3" y2="1203.3" stroke="#fff0ec" stroke-width="3.4"/><path d="M139.4,1203.3 L155.7,1194.0 L155.7,1212.6 Z" fill="none" stroke="#fff0ec" stroke-width="3" stroke-linejoin="miter"/><path d="M321.6,1203.3 L305.3,1194.0 L305.3,1212.6 Z" fill="none" stroke="#fff0ec" stroke-width="3" stroke-linejoin="miter"/>
<line x1="341.9" y1="1203.3" x2="773.1" y2="1203.3" stroke="#ecffea" stroke-width="3.4"/><path d="M325.6,1203.3 L341.9,1194.0 L341.9,1212.6 Z" fill="none" stroke="#ecffea" stroke-width="3" stroke-linejoin="miter"/><path d="M789.4,1203.3 L773.1,1194.0 L773.1,1212.6 Z" fill="none" stroke="#ecffea" stroke-width="3" stroke-linejoin="miter"/>
<line x1="809.7" y1="1203.3" x2="935.7" y2="1203.3" stroke="#fff0ec" stroke-width="3.4"/><path d="M793.4,1203.3 L809.7,1194.0 L809.7,1212.6 Z" fill="none" stroke="#fff0ec" stroke-width="3" stroke-linejoin="miter"/><path d="M952.0,1203.3 L935.7,1194.0 L935.7,1212.6 Z" fill="none" stroke="#fff0ec" stroke-width="3" stroke-linejoin="miter"/>
<line x1="972.3" y1="1203.3" x2="1407.8" y2="1203.3" stroke="#ecffea" stroke-width="3.4"/><path d="M956.0,1203.3 L972.3,1194.0 L972.3,1212.6 Z" fill="none" stroke="#ecffea" stroke-width="3" stroke-linejoin="miter"/><path d="M1424.1,1203.3 L1407.8,1194.0 L1407.8,1212.6 Z" fill="none" stroke="#ecffea" stroke-width="3" stroke-linejoin="miter"/>
<line x1="1444.4" y1="1203.3" x2="1569.1" y2="1203.3" stroke="#fff0ec" stroke-width="3.4"/><path d="M1428.1,1203.3 L1444.4,1194.0 L1444.4,1212.6 Z" fill="none" stroke="#fff0ec" stroke-width="3" stroke-linejoin="miter"/><path d="M1585.4,1203.3 L1569.1,1194.0 L1569.1,1212.6 Z" fill="none" stroke="#fff0ec" stroke-width="3" stroke-linejoin="miter"/>
<line x1="1605.7" y1="1203.3" x2="2038.3" y2="1203.3" stroke="#ecffea" stroke-width="3.4"/><path d="M1589.4,1203.3 L1605.7,1194.0 L1605.7,1212.6 Z" fill="none" stroke="#ecffea" stroke-width="3" stroke-linejoin="miter"/><path d="M2054.6,1203.3 L2038.3,1194.0 L2038.3,1212.6 Z" fill="none" stroke="#ecffea" stroke-width="3" stroke-linejoin="miter"/>
<text x="1853.32" y="60.20" font-size="44.86" fill="#ec8b20" stroke="#ec8b20" stroke-width="0.4" textLength="215.91" lengthAdjust="spacingAndGlyphs">Nuevo ATH</text>
<text x="1827.80" y="114.21" font-size="59.55" fill="#ffffff" stroke="#ffffff" stroke-width="0.4" textLength="240.71" lengthAdjust="spacingAndGlyphs">$126.272</text>
<text x="154.23" y="1180.50" font-size="41.73" font-style="italic" fill="#fff0ec" stroke="#fff0ec" stroke-width="0.4" textLength="149.17" lengthAdjust="spacingAndGlyphs">411 Días</text>
<text x="461.57" y="1180.60" font-size="48.08" font-style="italic" fill="#ecffea" stroke="#ecffea" stroke-width="0.4" textLength="195.88" lengthAdjust="spacingAndGlyphs">1.069 Días</text>
<text x="796.07" y="1180.58" font-size="42.67" font-style="italic" fill="#fff0ec" stroke="#fff0ec" stroke-width="0.4" textLength="149.66" lengthAdjust="spacingAndGlyphs">364 Días</text>
<text x="1098.74" y="1180.27" font-size="47.20" font-style="italic" fill="#ecffea" stroke="#ecffea" stroke-width="0.4" textLength="196.68" lengthAdjust="spacingAndGlyphs">1.061 Días</text>
<text x="1431.91" y="1180.60" font-size="42.61" font-style="italic" fill="#fff0ec" stroke="#fff0ec" stroke-width="0.4" textLength="147.06" lengthAdjust="spacingAndGlyphs">376 Días</text>
<text x="1764.73" y="1180.25" font-size="47.23" font-style="italic" fill="#ecffea" stroke="#ecffea" stroke-width="0.4" textLength="196.91" lengthAdjust="spacingAndGlyphs">1.050 Días</text>
<text x="2084.06" y="1179.72" font-size="40.90" font-style="italic" fill="#fff0ec" stroke="#fff0ec" stroke-width="0.4" textLength="128.14" lengthAdjust="spacingAndGlyphs">56 Días</text>
<text transform="translate(135.15,1383.63) rotate(-90)" font-size="26.81" fill="#f2f2f2" stroke="#f2f2f2" stroke-width="0.45" textLength="139.45" lengthAdjust="spacingAndGlyphs">30 Nov/2013</text>
<text transform="translate(317.45,1384.15) rotate(-90)" font-size="26.58" fill="#e8627a" stroke="#e8627a" stroke-width="0.45" textLength="135.84" lengthAdjust="spacingAndGlyphs">14 Ene/2015</text>
<text transform="translate(784.25,1385.11) rotate(-90)" font-size="26.58" fill="#c8f2c8" stroke="#c8f2c8" stroke-width="0.45" textLength="132.18" lengthAdjust="spacingAndGlyphs">17 Dic/2017</text>
<text transform="translate(946.90,1384.46) rotate(-90)" font-size="25.88" fill="#e8627a" stroke="#e8627a" stroke-width="0.45" textLength="132.37" lengthAdjust="spacingAndGlyphs">16 Dic/2018</text>
<text transform="translate(1422.65,1383.77) rotate(-90)" font-size="26.88" fill="#c8f2c8" stroke="#c8f2c8" stroke-width="0.45" textLength="137.20" lengthAdjust="spacingAndGlyphs">10 Nov/2021</text>
<text transform="translate(1581.45,1384.43) rotate(-90)" font-size="26.58" fill="#e8627a" stroke="#e8627a" stroke-width="0.45" textLength="141.05" lengthAdjust="spacingAndGlyphs">21 Nov/2022</text>
<text transform="translate(2052.83,1376.17) rotate(-90)" font-size="27.31" fill="#c8f2c8" stroke="#c8f2c8" stroke-width="0.45" textLength="122.49" lengthAdjust="spacingAndGlyphs">6 Oct/2025</text>
<text x="2434.12" y="105.95" font-size="30.40" fill="#e8e8e8" stroke="#e8e8e8" stroke-width="0.8" textLength="103.78" lengthAdjust="spacingAndGlyphs">170.000</text>
<text x="2433.07" y="187.14" font-size="30.40" fill="#e8e8e8" stroke="#e8e8e8" stroke-width="0.8" textLength="90.44" lengthAdjust="spacingAndGlyphs">90.000</text>
<text x="2433.95" y="287.85" font-size="30.40" fill="#e8e8e8" stroke="#e8e8e8" stroke-width="0.8" textLength="89.52" lengthAdjust="spacingAndGlyphs">40.000</text>
<text x="2433.29" y="375.74" font-size="30.40" fill="#e8e8e8" stroke="#e8e8e8" stroke-width="0.8" textLength="90.14" lengthAdjust="spacingAndGlyphs">20.000</text>
<text x="2433.80" y="462.30" font-size="30.40" fill="#e8e8e8" stroke="#e8e8e8" stroke-width="0.8" textLength="89.30" lengthAdjust="spacingAndGlyphs">10.000</text>
<text x="2433.04" y="550.55" font-size="30.40" fill="#e8e8e8" stroke="#e8e8e8" stroke-width="0.8" textLength="74.48" lengthAdjust="spacingAndGlyphs">5.000</text>
<text x="2433.26" y="633.24" font-size="30.40" fill="#e8e8e8" stroke="#e8e8e8" stroke-width="0.8" textLength="74.25" lengthAdjust="spacingAndGlyphs">2.600</text>
<text x="2433.77" y="730.95" font-size="30.40" fill="#e8e8e8" stroke="#e8e8e8" stroke-width="0.8" textLength="73.60" lengthAdjust="spacingAndGlyphs">1.200</text>
<text x="2433.29" y="817.74" font-size="30.40" fill="#e8e8e8" stroke="#e8e8e8" stroke-width="0.8" textLength="47.72" lengthAdjust="spacingAndGlyphs">600</text>
<text x="2433.30" y="897.09" font-size="30.40" fill="#e8e8e8" stroke="#e8e8e8" stroke-width="0.8" textLength="47.77" lengthAdjust="spacingAndGlyphs">320</text>
<text x="2433.95" y="984.25" font-size="30.40" fill="#e8e8e8" stroke="#e8e8e8" stroke-width="0.8" textLength="47.09" lengthAdjust="spacingAndGlyphs">160</text>
<text x="2433.12" y="1071.50" font-size="30.40" fill="#e8e8e8" stroke="#e8e8e8" stroke-width="0.8" textLength="32.39" lengthAdjust="spacingAndGlyphs">80</text>
<text x="2434.14" y="1160.65" font-size="30.40" fill="#e8e8e8" stroke="#e8e8e8" stroke-width="0.8" textLength="31.29" lengthAdjust="spacingAndGlyphs">40</text>
<text x="2433.37" y="1246.43" font-size="30.40" fill="#e8e8e8" stroke="#e8e8e8" stroke-width="0.8" textLength="32.22" lengthAdjust="spacingAndGlyphs">20</text>
<text x="2433.93" y="1332.25" font-size="30.40" fill="#e8e8e8" stroke="#e8e8e8" stroke-width="0.8" textLength="31.47" lengthAdjust="spacingAndGlyphs">10</text>
<text x="121.27" y="1425.00" font-size="31.60" font-weight="bold" fill="#f0f0f0" textLength="69.06" lengthAdjust="spacingAndGlyphs">2014</text>
<text x="283.27" y="1425.80" font-size="31.00" font-weight="bold" fill="#f0f0f0" textLength="67.48" lengthAdjust="spacingAndGlyphs">2015</text>
<text x="445.17" y="1425.80" font-size="31.00" font-weight="bold" fill="#f0f0f0" textLength="67.62" lengthAdjust="spacingAndGlyphs">2016</text>
<text x="605.69" y="1425.80" font-size="31.00" font-weight="bold" fill="#f0f0f0" textLength="68.05" lengthAdjust="spacingAndGlyphs">2017</text>
<text x="767.35" y="1425.80" font-size="31.00" font-weight="bold" fill="#f0f0f0" textLength="69.15" lengthAdjust="spacingAndGlyphs">2018</text>
<text x="931.56" y="1425.80" font-size="31.00" font-weight="bold" fill="#f0f0f0" textLength="69.43" lengthAdjust="spacingAndGlyphs">2019</text>
<text x="1093.14" y="1425.78" font-size="31.00" font-weight="bold" fill="#f0f0f0" textLength="70.62" lengthAdjust="spacingAndGlyphs">2020</text>
<text x="1254.75" y="1425.80" font-size="31.00" font-weight="bold" fill="#f0f0f0" textLength="66.08" lengthAdjust="spacingAndGlyphs">2021</text>
<text x="1416.70" y="1425.78" font-size="31.00" font-weight="bold" fill="#f0f0f0" textLength="67.84" lengthAdjust="spacingAndGlyphs">2022</text>
<text x="1578.34" y="1425.78" font-size="31.00" font-weight="bold" fill="#f0f0f0" textLength="67.72" lengthAdjust="spacingAndGlyphs">2023</text>
<text x="1739.68" y="1425.80" font-size="31.00" font-weight="bold" fill="#f0f0f0" textLength="68.26" lengthAdjust="spacingAndGlyphs">2024</text>
<text x="1903.90" y="1425.80" font-size="31.00" font-weight="bold" fill="#f0f0f0" textLength="69.21" lengthAdjust="spacingAndGlyphs">2025</text>
<text x="2065.90" y="1425.78" font-size="31.00" font-weight="bold" fill="#f0f0f0" textLength="67.96" lengthAdjust="spacingAndGlyphs">2026</text>
<text x="2226.85" y="1425.80" font-size="31.00" font-weight="bold" fill="#f0f0f0" textLength="69.35" lengthAdjust="spacingAndGlyphs">2027</text>
<rect x="2414.3" y="0" width="1.2" height="1437" fill="#1e1e1e"/>
<rect x="2422.9" y="7.7" width="126" height="47.4" rx="10" fill="#080808" stroke="#333" stroke-width="1.5"/>
<text x="2428.48" y="37.80" font-size="24.00" fill="#e0e0e0" stroke="#e0e0e0" stroke-width="0.3" textLength="38.87" lengthAdjust="spacingAndGlyphs">USD</text>
<path d="M2531.6,29.4 L2536.3,34 L2541,29.4" fill="none" stroke="#dcdcdc" stroke-width="2"/>
<path d="M2473.6,1417.2 L2480,1405.4 L2492.6,1405.4 L2499,1417.2 L2492.6,1429.1 L2480,1429.1 Z" fill="none" stroke="#d0d0d0" stroke-width="1.5"/>
<circle cx="2486.3" cy="1417.2" r="3.8" fill="none" stroke="#d0d0d0" stroke-width="1.5"/>
</svg>
</body></html>
